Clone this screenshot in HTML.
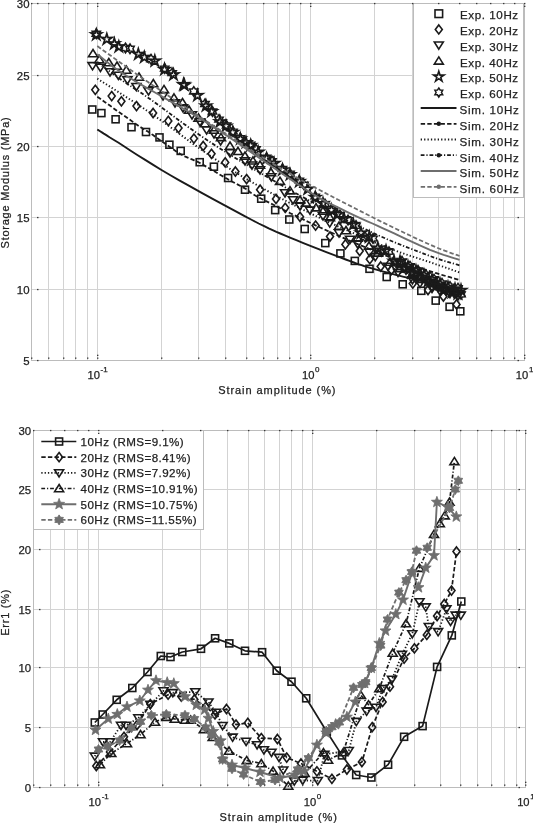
<!DOCTYPE html>
<html><head><meta charset="utf-8"><style>
html,body{margin:0;padding:0;background:#fff;}
svg{display:block;font-family:'Liberation Sans',sans-serif;filter:grayscale(1) blur(0.3px);}
</style></head><body>
<svg width="533" height="823" viewBox="0 0 533 823">
<rect width="533" height="823" fill="#fff"/>
<line x1="31.5" y1="3.5" x2="31.5" y2="360.5" stroke="#d3d3d3" stroke-width="1"/>
<line x1="48.5" y1="3.5" x2="48.5" y2="360.5" stroke="#d3d3d3" stroke-width="1"/>
<line x1="63.5" y1="3.5" x2="63.5" y2="360.5" stroke="#d3d3d3" stroke-width="1"/>
<line x1="75.5" y1="3.5" x2="75.5" y2="360.5" stroke="#d3d3d3" stroke-width="1"/>
<line x1="87.5" y1="3.5" x2="87.5" y2="360.5" stroke="#d3d3d3" stroke-width="1"/>
<line x1="97.5" y1="3.5" x2="97.5" y2="360.5" stroke="#d3d3d3" stroke-width="1"/>
<line x1="161.5" y1="3.5" x2="161.5" y2="360.5" stroke="#d3d3d3" stroke-width="1"/>
<line x1="198.5" y1="3.5" x2="198.5" y2="360.5" stroke="#d3d3d3" stroke-width="1"/>
<line x1="225.5" y1="3.5" x2="225.5" y2="360.5" stroke="#d3d3d3" stroke-width="1"/>
<line x1="246.5" y1="3.5" x2="246.5" y2="360.5" stroke="#d3d3d3" stroke-width="1"/>
<line x1="263.5" y1="3.5" x2="263.5" y2="360.5" stroke="#d3d3d3" stroke-width="1"/>
<line x1="277.5" y1="3.5" x2="277.5" y2="360.5" stroke="#d3d3d3" stroke-width="1"/>
<line x1="289.5" y1="3.5" x2="289.5" y2="360.5" stroke="#d3d3d3" stroke-width="1"/>
<line x1="300.5" y1="3.5" x2="300.5" y2="360.5" stroke="#d3d3d3" stroke-width="1"/>
<line x1="310.5" y1="3.5" x2="310.5" y2="360.5" stroke="#d3d3d3" stroke-width="1"/>
<line x1="374.5" y1="3.5" x2="374.5" y2="360.5" stroke="#d3d3d3" stroke-width="1"/>
<line x1="412.5" y1="3.5" x2="412.5" y2="360.5" stroke="#d3d3d3" stroke-width="1"/>
<line x1="438.5" y1="3.5" x2="438.5" y2="360.5" stroke="#d3d3d3" stroke-width="1"/>
<line x1="459.5" y1="3.5" x2="459.5" y2="360.5" stroke="#d3d3d3" stroke-width="1"/>
<line x1="476.5" y1="3.5" x2="476.5" y2="360.5" stroke="#d3d3d3" stroke-width="1"/>
<line x1="490.5" y1="3.5" x2="490.5" y2="360.5" stroke="#d3d3d3" stroke-width="1"/>
<line x1="503.5" y1="3.5" x2="503.5" y2="360.5" stroke="#d3d3d3" stroke-width="1"/>
<line x1="514.5" y1="3.5" x2="514.5" y2="360.5" stroke="#d3d3d3" stroke-width="1"/>
<line x1="524.5" y1="3.5" x2="524.5" y2="360.5" stroke="#d3d3d3" stroke-width="1"/>
<line x1="31.5" y1="360.5" x2="524.5" y2="360.5" stroke="#d3d3d3" stroke-width="1"/>
<line x1="31.5" y1="289.5" x2="524.5" y2="289.5" stroke="#d3d3d3" stroke-width="1"/>
<line x1="31.5" y1="217.5" x2="524.5" y2="217.5" stroke="#d3d3d3" stroke-width="1"/>
<line x1="31.5" y1="146.5" x2="524.5" y2="146.5" stroke="#d3d3d3" stroke-width="1"/>
<line x1="31.5" y1="75.5" x2="524.5" y2="75.5" stroke="#d3d3d3" stroke-width="1"/>
<line x1="31.5" y1="3.5" x2="524.5" y2="3.5" stroke="#d3d3d3" stroke-width="1"/>
<rect x="31.5" y="3.5" width="493.0" height="357.0" fill="none" stroke="#bcbcbc" stroke-width="1"/>
<text x="29.5" y="364.6" text-anchor="end" font-size="11.4" fill="#222" stroke="#222" stroke-width="0.25">5</text>
<text x="29.5" y="293.6" text-anchor="end" font-size="11.4" fill="#222" stroke="#222" stroke-width="0.25">10</text>
<text x="29.5" y="221.6" text-anchor="end" font-size="11.4" fill="#222" stroke="#222" stroke-width="0.25">15</text>
<text x="29.5" y="150.6" text-anchor="end" font-size="11.4" fill="#222" stroke="#222" stroke-width="0.25">20</text>
<text x="29.5" y="79.6" text-anchor="end" font-size="11.4" fill="#222" stroke="#222" stroke-width="0.25">25</text>
<text x="29.5" y="7.6" text-anchor="end" font-size="11.4" fill="#222" stroke="#222" stroke-width="0.25">30</text>
<text x="97.6" y="379.1" text-anchor="middle" font-size="11.2" fill="#222" stroke="#222" stroke-width="0.25">10<tspan dx="0.6" dy="-7.6" font-size="8">-1</tspan></text>
<text x="310.8" y="379.1" text-anchor="middle" font-size="11.2" fill="#222" stroke="#222" stroke-width="0.25">10<tspan dx="0.6" dy="-7.6" font-size="8">0</tspan></text>
<text x="524.6" y="379.1" text-anchor="middle" font-size="11.2" fill="#222" stroke="#222" stroke-width="0.25">10<tspan dx="0.6" dy="-7.6" font-size="8">1</tspan></text>
<text x="218.2" y="393.5" font-size="11" textLength="117.3" lengthAdjust="spacing" fill="#222" stroke="#222" stroke-width="0.25">Strain amplitude (%)</text>
<text transform="translate(9.3,182.5) rotate(-90)" text-anchor="middle" font-size="11" letter-spacing="0.75" fill="#222" stroke="#222" stroke-width="0.25">Storage Modulus (MPa)</text>
<line x1="33.5" y1="430.5" x2="33.5" y2="787.5" stroke="#d3d3d3" stroke-width="1"/>
<line x1="50.5" y1="430.5" x2="50.5" y2="787.5" stroke="#d3d3d3" stroke-width="1"/>
<line x1="64.5" y1="430.5" x2="64.5" y2="787.5" stroke="#d3d3d3" stroke-width="1"/>
<line x1="77.5" y1="430.5" x2="77.5" y2="787.5" stroke="#d3d3d3" stroke-width="1"/>
<line x1="88.5" y1="430.5" x2="88.5" y2="787.5" stroke="#d3d3d3" stroke-width="1"/>
<line x1="98.5" y1="430.5" x2="98.5" y2="787.5" stroke="#d3d3d3" stroke-width="1"/>
<line x1="162.5" y1="430.5" x2="162.5" y2="787.5" stroke="#d3d3d3" stroke-width="1"/>
<line x1="200.5" y1="430.5" x2="200.5" y2="787.5" stroke="#d3d3d3" stroke-width="1"/>
<line x1="227.5" y1="430.5" x2="227.5" y2="787.5" stroke="#d3d3d3" stroke-width="1"/>
<line x1="248.5" y1="430.5" x2="248.5" y2="787.5" stroke="#d3d3d3" stroke-width="1"/>
<line x1="264.5" y1="430.5" x2="264.5" y2="787.5" stroke="#d3d3d3" stroke-width="1"/>
<line x1="279.5" y1="430.5" x2="279.5" y2="787.5" stroke="#d3d3d3" stroke-width="1"/>
<line x1="291.5" y1="430.5" x2="291.5" y2="787.5" stroke="#d3d3d3" stroke-width="1"/>
<line x1="302.5" y1="430.5" x2="302.5" y2="787.5" stroke="#d3d3d3" stroke-width="1"/>
<line x1="312.5" y1="430.5" x2="312.5" y2="787.5" stroke="#d3d3d3" stroke-width="1"/>
<line x1="376.5" y1="430.5" x2="376.5" y2="787.5" stroke="#d3d3d3" stroke-width="1"/>
<line x1="414.5" y1="430.5" x2="414.5" y2="787.5" stroke="#d3d3d3" stroke-width="1"/>
<line x1="440.5" y1="430.5" x2="440.5" y2="787.5" stroke="#d3d3d3" stroke-width="1"/>
<line x1="460.5" y1="430.5" x2="460.5" y2="787.5" stroke="#d3d3d3" stroke-width="1"/>
<line x1="477.5" y1="430.5" x2="477.5" y2="787.5" stroke="#d3d3d3" stroke-width="1"/>
<line x1="491.5" y1="430.5" x2="491.5" y2="787.5" stroke="#d3d3d3" stroke-width="1"/>
<line x1="504.5" y1="430.5" x2="504.5" y2="787.5" stroke="#d3d3d3" stroke-width="1"/>
<line x1="516.5" y1="430.5" x2="516.5" y2="787.5" stroke="#d3d3d3" stroke-width="1"/>
<line x1="525.5" y1="430.5" x2="525.5" y2="787.5" stroke="#d3d3d3" stroke-width="1"/>
<line x1="33.5" y1="787.5" x2="525.5" y2="787.5" stroke="#d3d3d3" stroke-width="1"/>
<line x1="33.5" y1="727.5" x2="525.5" y2="727.5" stroke="#d3d3d3" stroke-width="1"/>
<line x1="33.5" y1="667.5" x2="525.5" y2="667.5" stroke="#d3d3d3" stroke-width="1"/>
<line x1="33.5" y1="609.5" x2="525.5" y2="609.5" stroke="#d3d3d3" stroke-width="1"/>
<line x1="33.5" y1="549.5" x2="525.5" y2="549.5" stroke="#d3d3d3" stroke-width="1"/>
<line x1="33.5" y1="489.5" x2="525.5" y2="489.5" stroke="#d3d3d3" stroke-width="1"/>
<line x1="33.5" y1="430.5" x2="525.5" y2="430.5" stroke="#d3d3d3" stroke-width="1"/>
<rect x="33.5" y="430.5" width="492.0" height="357.0" fill="none" stroke="#bcbcbc" stroke-width="1"/>
<text x="31.1" y="791.6" text-anchor="end" font-size="11.4" fill="#222" stroke="#222" stroke-width="0.25">0</text>
<text x="31.1" y="731.6" text-anchor="end" font-size="11.4" fill="#222" stroke="#222" stroke-width="0.25">5</text>
<text x="31.1" y="671.6" text-anchor="end" font-size="11.4" fill="#222" stroke="#222" stroke-width="0.25">10</text>
<text x="31.1" y="613.6" text-anchor="end" font-size="11.4" fill="#222" stroke="#222" stroke-width="0.25">15</text>
<text x="31.1" y="553.6" text-anchor="end" font-size="11.4" fill="#222" stroke="#222" stroke-width="0.25">20</text>
<text x="31.1" y="493.6" text-anchor="end" font-size="11.4" fill="#222" stroke="#222" stroke-width="0.25">25</text>
<text x="31.1" y="434.6" text-anchor="end" font-size="11.4" fill="#222" stroke="#222" stroke-width="0.25">30</text>
<text x="98.7" y="806.1" text-anchor="middle" font-size="11.2" fill="#222" stroke="#222" stroke-width="0.25">10<tspan dx="0.6" dy="-7.6" font-size="8">-1</tspan></text>
<text x="312.5" y="806.1" text-anchor="middle" font-size="11.2" fill="#222" stroke="#222" stroke-width="0.25">10<tspan dx="0.6" dy="-7.6" font-size="8">0</tspan></text>
<text x="525.9" y="806.1" text-anchor="middle" font-size="11.2" fill="#222" stroke="#222" stroke-width="0.25">10<tspan dx="0.6" dy="-7.6" font-size="8">1</tspan></text>
<text x="219.6" y="820.5" font-size="11" textLength="117.3" lengthAdjust="spacing" fill="#222" stroke="#222" stroke-width="0.25">Strain amplitude (%)</text>
<text transform="translate(9.3,612.3) rotate(-90)" text-anchor="middle" font-size="11" letter-spacing="0.75" fill="#222" stroke="#222" stroke-width="0.25">Err1 (%)</text>
<g>
<rect x="88.8" y="106.0" width="7.0" height="7.0" fill="none" stroke="#1a1a1a" stroke-width="1.6"/>
<rect x="97.9" y="109.6" width="7.0" height="7.0" fill="none" stroke="#1a1a1a" stroke-width="1.6"/>
<rect x="112.1" y="115.8" width="7.0" height="7.0" fill="none" stroke="#1a1a1a" stroke-width="1.6"/>
<rect x="128.0" y="123.7" width="7.0" height="7.0" fill="none" stroke="#1a1a1a" stroke-width="1.6"/>
<rect x="142.5" y="128.5" width="7.0" height="7.0" fill="none" stroke="#1a1a1a" stroke-width="1.6"/>
<rect x="156.0" y="133.9" width="7.0" height="7.0" fill="none" stroke="#1a1a1a" stroke-width="1.6"/>
<rect x="165.9" y="141.2" width="7.0" height="7.0" fill="none" stroke="#1a1a1a" stroke-width="1.6"/>
<rect x="177.2" y="147.4" width="7.0" height="7.0" fill="none" stroke="#1a1a1a" stroke-width="1.6"/>
<rect x="196.2" y="158.7" width="7.0" height="7.0" fill="none" stroke="#1a1a1a" stroke-width="1.6"/>
<rect x="210.4" y="163.2" width="7.0" height="7.0" fill="none" stroke="#1a1a1a" stroke-width="1.6"/>
<rect x="224.6" y="174.5" width="7.0" height="7.0" fill="none" stroke="#1a1a1a" stroke-width="1.6"/>
<rect x="241.5" y="186.2" width="7.0" height="7.0" fill="none" stroke="#1a1a1a" stroke-width="1.6"/>
<rect x="257.7" y="195.2" width="7.0" height="7.0" fill="none" stroke="#1a1a1a" stroke-width="1.6"/>
<rect x="271.7" y="206.6" width="7.0" height="7.0" fill="none" stroke="#1a1a1a" stroke-width="1.6"/>
<rect x="285.8" y="216.0" width="7.0" height="7.0" fill="none" stroke="#1a1a1a" stroke-width="1.6"/>
<rect x="301.2" y="225.5" width="7.0" height="7.0" fill="none" stroke="#1a1a1a" stroke-width="1.6"/>
<rect x="321.8" y="239.6" width="7.0" height="7.0" fill="none" stroke="#1a1a1a" stroke-width="1.6"/>
<rect x="336.9" y="249.9" width="7.0" height="7.0" fill="none" stroke="#1a1a1a" stroke-width="1.6"/>
<rect x="351.3" y="257.4" width="7.0" height="7.0" fill="none" stroke="#1a1a1a" stroke-width="1.6"/>
<rect x="366.0" y="265.3" width="7.0" height="7.0" fill="none" stroke="#1a1a1a" stroke-width="1.6"/>
<rect x="383.2" y="273.5" width="7.0" height="7.0" fill="none" stroke="#1a1a1a" stroke-width="1.6"/>
<rect x="399.2" y="280.8" width="7.0" height="7.0" fill="none" stroke="#1a1a1a" stroke-width="1.6"/>
<rect x="417.8" y="287.3" width="7.0" height="7.0" fill="none" stroke="#1a1a1a" stroke-width="1.6"/>
<rect x="432.2" y="297.1" width="7.0" height="7.0" fill="none" stroke="#1a1a1a" stroke-width="1.6"/>
<rect x="446.1" y="303.3" width="7.0" height="7.0" fill="none" stroke="#1a1a1a" stroke-width="1.6"/>
<rect x="456.8" y="307.8" width="7.0" height="7.0" fill="none" stroke="#1a1a1a" stroke-width="1.6"/>
<path d="M95.3,85.2 L98.8,89.8 L95.3,94.4 L91.8,89.8 Z" fill="none" stroke="#1a1a1a" stroke-width="1.6"/>
<path d="M111.7,91.5 L115.2,96.1 L111.7,100.7 L108.2,96.1 Z" fill="none" stroke="#1a1a1a" stroke-width="1.6"/>
<path d="M121.4,96.7 L124.9,101.3 L121.4,105.9 L117.9,101.3 Z" fill="none" stroke="#1a1a1a" stroke-width="1.6"/>
<path d="M136.5,101.5 L140.0,106.1 L136.5,110.7 L133.0,106.1 Z" fill="none" stroke="#1a1a1a" stroke-width="1.6"/>
<path d="M153.1,108.4 L156.6,113.0 L153.1,117.6 L149.6,113.0 Z" fill="none" stroke="#1a1a1a" stroke-width="1.6"/>
<path d="M168.3,116.3 L171.8,120.9 L168.3,125.5 L164.8,120.9 Z" fill="none" stroke="#1a1a1a" stroke-width="1.6"/>
<path d="M178.5,123.5 L182.0,128.1 L178.5,132.7 L175.0,128.1 Z" fill="none" stroke="#1a1a1a" stroke-width="1.6"/>
<path d="M193.9,134.0 L197.4,138.6 L193.9,143.2 L190.4,138.6 Z" fill="none" stroke="#1a1a1a" stroke-width="1.6"/>
<path d="M203.2,141.4 L206.7,146.0 L203.2,150.6 L199.7,146.0 Z" fill="none" stroke="#1a1a1a" stroke-width="1.6"/>
<path d="M211.5,149.2 L215.0,153.8 L211.5,158.4 L208.0,153.8 Z" fill="none" stroke="#1a1a1a" stroke-width="1.6"/>
<path d="M225.2,157.8 L228.7,162.4 L225.2,167.0 L221.7,162.4 Z" fill="none" stroke="#1a1a1a" stroke-width="1.6"/>
<path d="M235.4,166.9 L238.9,171.5 L235.4,176.1 L231.9,171.5 Z" fill="none" stroke="#1a1a1a" stroke-width="1.6"/>
<path d="M246.6,174.5 L250.1,179.1 L246.6,183.7 L243.1,179.1 Z" fill="none" stroke="#1a1a1a" stroke-width="1.6"/>
<path d="M260.1,185.1 L263.6,189.7 L260.1,194.3 L256.6,189.7 Z" fill="none" stroke="#1a1a1a" stroke-width="1.6"/>
<path d="M276.0,194.3 L279.5,198.9 L276.0,203.5 L272.5,198.9 Z" fill="none" stroke="#1a1a1a" stroke-width="1.6"/>
<path d="M285.2,203.2 L288.7,207.8 L285.2,212.4 L281.7,207.8 Z" fill="none" stroke="#1a1a1a" stroke-width="1.6"/>
<path d="M300.0,212.2 L303.5,216.8 L300.0,221.4 L296.5,216.8 Z" fill="none" stroke="#1a1a1a" stroke-width="1.6"/>
<path d="M315.6,221.0 L319.1,225.6 L315.6,230.2 L312.1,225.6 Z" fill="none" stroke="#1a1a1a" stroke-width="1.6"/>
<path d="M330.0,231.9 L333.5,236.5 L330.0,241.1 L326.5,236.5 Z" fill="none" stroke="#1a1a1a" stroke-width="1.6"/>
<path d="M345.4,239.8 L348.9,244.4 L345.4,249.0 L341.9,244.4 Z" fill="none" stroke="#1a1a1a" stroke-width="1.6"/>
<path d="M359.7,246.4 L363.2,251.0 L359.7,255.6 L356.2,251.0 Z" fill="none" stroke="#1a1a1a" stroke-width="1.6"/>
<path d="M369.8,254.6 L373.3,259.2 L369.8,263.8 L366.3,259.2 Z" fill="none" stroke="#1a1a1a" stroke-width="1.6"/>
<path d="M380.7,261.9 L384.2,266.5 L380.7,271.1 L377.2,266.5 Z" fill="none" stroke="#1a1a1a" stroke-width="1.6"/>
<path d="M391.4,265.4 L394.9,270.0 L391.4,274.6 L387.9,270.0 Z" fill="none" stroke="#1a1a1a" stroke-width="1.6"/>
<path d="M412.8,279.0 L416.3,283.6 L412.8,288.2 L409.3,283.6 Z" fill="none" stroke="#1a1a1a" stroke-width="1.6"/>
<path d="M428.0,285.4 L431.5,290.0 L428.0,294.6 L424.5,290.0 Z" fill="none" stroke="#1a1a1a" stroke-width="1.6"/>
<path d="M443.4,291.9 L446.9,296.5 L443.4,301.1 L439.9,296.5 Z" fill="none" stroke="#1a1a1a" stroke-width="1.6"/>
<path d="M456.5,299.8 L460.0,304.4 L456.5,309.0 L453.0,304.4 Z" fill="none" stroke="#1a1a1a" stroke-width="1.6"/>
<path d="M92.5,69.8 L97.0,62.6 L88.0,62.6 Z" fill="none" stroke="#1a1a1a" stroke-width="1.6" stroke-linejoin="miter"/>
<path d="M100.4,71.5 L104.9,64.3 L95.9,64.3 Z" fill="none" stroke="#1a1a1a" stroke-width="1.6" stroke-linejoin="miter"/>
<path d="M110.0,76.0 L114.5,68.8 L105.5,68.8 Z" fill="none" stroke="#1a1a1a" stroke-width="1.6" stroke-linejoin="miter"/>
<path d="M118.4,79.4 L122.9,72.2 L113.9,72.2 Z" fill="none" stroke="#1a1a1a" stroke-width="1.6" stroke-linejoin="miter"/>
<path d="M127.4,84.0 L131.9,76.8 L122.9,76.8 Z" fill="none" stroke="#1a1a1a" stroke-width="1.6" stroke-linejoin="miter"/>
<path d="M136.4,90.7 L140.9,83.5 L131.9,83.5 Z" fill="none" stroke="#1a1a1a" stroke-width="1.6" stroke-linejoin="miter"/>
<path d="M148.5,95.0 L153.0,87.8 L144.0,87.8 Z" fill="none" stroke="#1a1a1a" stroke-width="1.6" stroke-linejoin="miter"/>
<path d="M163.0,100.0 L167.5,92.8 L158.5,92.8 Z" fill="none" stroke="#1a1a1a" stroke-width="1.6" stroke-linejoin="miter"/>
<path d="M175.0,107.0 L179.5,99.8 L170.5,99.8 Z" fill="none" stroke="#1a1a1a" stroke-width="1.6" stroke-linejoin="miter"/>
<path d="M183.0,112.0 L187.5,104.8 L178.5,104.8 Z" fill="none" stroke="#1a1a1a" stroke-width="1.6" stroke-linejoin="miter"/>
<path d="M192.0,119.0 L196.5,111.8 L187.5,111.8 Z" fill="none" stroke="#1a1a1a" stroke-width="1.6" stroke-linejoin="miter"/>
<path d="M200.0,126.0 L204.5,118.8 L195.5,118.8 Z" fill="none" stroke="#1a1a1a" stroke-width="1.6" stroke-linejoin="miter"/>
<path d="M206.6,134.0 L211.1,126.8 L202.1,126.8 Z" fill="none" stroke="#1a1a1a" stroke-width="1.6" stroke-linejoin="miter"/>
<path d="M214.0,138.0 L218.5,130.8 L209.5,130.8 Z" fill="none" stroke="#1a1a1a" stroke-width="1.6" stroke-linejoin="miter"/>
<path d="M220.6,145.0 L225.1,137.8 L216.1,137.8 Z" fill="none" stroke="#1a1a1a" stroke-width="1.6" stroke-linejoin="miter"/>
<path d="M230.0,157.0 L234.5,149.8 L225.5,149.8 Z" fill="none" stroke="#1a1a1a" stroke-width="1.6" stroke-linejoin="miter"/>
<path d="M245.0,165.0 L249.5,157.8 L240.5,157.8 Z" fill="none" stroke="#1a1a1a" stroke-width="1.6" stroke-linejoin="miter"/>
<path d="M252.0,169.2 L256.5,162.0 L247.5,162.0 Z" fill="none" stroke="#1a1a1a" stroke-width="1.6" stroke-linejoin="miter"/>
<path d="M260.0,174.0 L264.5,166.8 L255.5,166.8 Z" fill="none" stroke="#1a1a1a" stroke-width="1.6" stroke-linejoin="miter"/>
<path d="M271.3,181.0 L275.8,173.8 L266.8,173.8 Z" fill="none" stroke="#1a1a1a" stroke-width="1.6" stroke-linejoin="miter"/>
<path d="M285.0,197.0 L289.5,189.8 L280.5,189.8 Z" fill="none" stroke="#1a1a1a" stroke-width="1.6" stroke-linejoin="miter"/>
<path d="M293.0,203.9 L297.5,196.7 L288.5,196.7 Z" fill="none" stroke="#1a1a1a" stroke-width="1.6" stroke-linejoin="miter"/>
<path d="M300.0,210.0 L304.5,202.8 L295.5,202.8 Z" fill="none" stroke="#1a1a1a" stroke-width="1.6" stroke-linejoin="miter"/>
<path d="M310.0,214.3 L314.5,207.1 L305.5,207.1 Z" fill="none" stroke="#1a1a1a" stroke-width="1.6" stroke-linejoin="miter"/>
<path d="M323.0,220.0 L327.5,212.8 L318.5,212.8 Z" fill="none" stroke="#1a1a1a" stroke-width="1.6" stroke-linejoin="miter"/>
<path d="M329.7,227.1 L334.2,219.9 L325.2,219.9 Z" fill="none" stroke="#1a1a1a" stroke-width="1.6" stroke-linejoin="miter"/>
<path d="M339.0,237.0 L343.5,229.8 L334.5,229.8 Z" fill="none" stroke="#1a1a1a" stroke-width="1.6" stroke-linejoin="miter"/>
<path d="M350.0,243.5 L354.5,236.3 L345.5,236.3 Z" fill="none" stroke="#1a1a1a" stroke-width="1.6" stroke-linejoin="miter"/>
<path d="M357.6,248.0 L362.1,240.8 L353.1,240.8 Z" fill="none" stroke="#1a1a1a" stroke-width="1.6" stroke-linejoin="miter"/>
<path d="M369.4,256.3 L373.9,249.1 L364.9,249.1 Z" fill="none" stroke="#1a1a1a" stroke-width="1.6" stroke-linejoin="miter"/>
<path d="M375.3,260.8 L379.8,253.6 L370.8,253.6 Z" fill="none" stroke="#1a1a1a" stroke-width="1.6" stroke-linejoin="miter"/>
<path d="M388.0,270.5 L392.5,263.3 L383.5,263.3 Z" fill="none" stroke="#1a1a1a" stroke-width="1.6" stroke-linejoin="miter"/>
<path d="M398.0,276.6 L402.5,269.4 L393.5,269.4 Z" fill="none" stroke="#1a1a1a" stroke-width="1.6" stroke-linejoin="miter"/>
<path d="M412.5,283.9 L417.0,276.7 L408.0,276.7 Z" fill="none" stroke="#1a1a1a" stroke-width="1.6" stroke-linejoin="miter"/>
<path d="M420.0,287.4 L424.5,280.2 L415.5,280.2 Z" fill="none" stroke="#1a1a1a" stroke-width="1.6" stroke-linejoin="miter"/>
<path d="M432.0,292.6 L436.5,285.4 L427.5,285.4 Z" fill="none" stroke="#1a1a1a" stroke-width="1.6" stroke-linejoin="miter"/>
<path d="M440.0,294.9 L444.5,287.7 L435.5,287.7 Z" fill="none" stroke="#1a1a1a" stroke-width="1.6" stroke-linejoin="miter"/>
<path d="M450.0,297.7 L454.5,290.5 L445.5,290.5 Z" fill="none" stroke="#1a1a1a" stroke-width="1.6" stroke-linejoin="miter"/>
<path d="M458.0,300.0 L462.5,292.8 L453.5,292.8 Z" fill="none" stroke="#1a1a1a" stroke-width="1.6" stroke-linejoin="miter"/>
<path d="M93.0,49.5 L97.5,56.7 L88.5,56.7 Z" fill="none" stroke="#1a1a1a" stroke-width="1.6" stroke-linejoin="miter"/>
<path d="M99.3,55.5 L103.8,62.7 L94.8,62.7 Z" fill="none" stroke="#1a1a1a" stroke-width="1.6" stroke-linejoin="miter"/>
<path d="M108.8,58.5 L113.3,65.7 L104.3,65.7 Z" fill="none" stroke="#1a1a1a" stroke-width="1.6" stroke-linejoin="miter"/>
<path d="M117.0,62.0 L121.5,69.2 L112.5,69.2 Z" fill="none" stroke="#1a1a1a" stroke-width="1.6" stroke-linejoin="miter"/>
<path d="M126.3,66.0 L130.8,73.2 L121.8,73.2 Z" fill="none" stroke="#1a1a1a" stroke-width="1.6" stroke-linejoin="miter"/>
<path d="M139.0,73.0 L143.5,80.2 L134.5,80.2 Z" fill="none" stroke="#1a1a1a" stroke-width="1.6" stroke-linejoin="miter"/>
<path d="M153.3,79.5 L157.8,86.7 L148.8,86.7 Z" fill="none" stroke="#1a1a1a" stroke-width="1.6" stroke-linejoin="miter"/>
<path d="M164.0,85.4 L168.5,92.6 L159.5,92.6 Z" fill="none" stroke="#1a1a1a" stroke-width="1.6" stroke-linejoin="miter"/>
<path d="M174.0,93.8 L178.5,101.0 L169.5,101.0 Z" fill="none" stroke="#1a1a1a" stroke-width="1.6" stroke-linejoin="miter"/>
<path d="M182.5,98.5 L187.0,105.7 L178.0,105.7 Z" fill="none" stroke="#1a1a1a" stroke-width="1.6" stroke-linejoin="miter"/>
<path d="M189.0,106.0 L193.5,113.2 L184.5,113.2 Z" fill="none" stroke="#1a1a1a" stroke-width="1.6" stroke-linejoin="miter"/>
<path d="M198.5,114.0 L203.0,121.2 L194.0,121.2 Z" fill="none" stroke="#1a1a1a" stroke-width="1.6" stroke-linejoin="miter"/>
<path d="M205.0,119.5 L209.5,126.7 L200.5,126.7 Z" fill="none" stroke="#1a1a1a" stroke-width="1.6" stroke-linejoin="miter"/>
<path d="M214.0,126.0 L218.5,133.2 L209.5,133.2 Z" fill="none" stroke="#1a1a1a" stroke-width="1.6" stroke-linejoin="miter"/>
<path d="M221.0,133.4 L225.5,140.6 L216.5,140.6 Z" fill="none" stroke="#1a1a1a" stroke-width="1.6" stroke-linejoin="miter"/>
<path d="M230.0,142.0 L234.5,149.2 L225.5,149.2 Z" fill="none" stroke="#1a1a1a" stroke-width="1.6" stroke-linejoin="miter"/>
<path d="M238.0,147.3 L242.5,154.5 L233.5,154.5 Z" fill="none" stroke="#1a1a1a" stroke-width="1.6" stroke-linejoin="miter"/>
<path d="M245.0,152.0 L249.5,159.2 L240.5,159.2 Z" fill="none" stroke="#1a1a1a" stroke-width="1.6" stroke-linejoin="miter"/>
<path d="M253.0,156.8 L257.5,164.0 L248.5,164.0 Z" fill="none" stroke="#1a1a1a" stroke-width="1.6" stroke-linejoin="miter"/>
<path d="M260.0,161.0 L264.5,168.2 L255.5,168.2 Z" fill="none" stroke="#1a1a1a" stroke-width="1.6" stroke-linejoin="miter"/>
<path d="M271.0,168.5 L275.5,175.7 L266.5,175.7 Z" fill="none" stroke="#1a1a1a" stroke-width="1.6" stroke-linejoin="miter"/>
<path d="M280.0,177.2 L284.5,184.4 L275.5,184.4 Z" fill="none" stroke="#1a1a1a" stroke-width="1.6" stroke-linejoin="miter"/>
<path d="M290.0,186.7 L294.5,193.9 L285.5,193.9 Z" fill="none" stroke="#1a1a1a" stroke-width="1.6" stroke-linejoin="miter"/>
<path d="M300.0,196.0 L304.5,203.2 L295.5,203.2 Z" fill="none" stroke="#1a1a1a" stroke-width="1.6" stroke-linejoin="miter"/>
<path d="M306.0,198.9 L310.5,206.1 L301.5,206.1 Z" fill="none" stroke="#1a1a1a" stroke-width="1.6" stroke-linejoin="miter"/>
<path d="M316.0,203.7 L320.5,210.9 L311.5,210.9 Z" fill="none" stroke="#1a1a1a" stroke-width="1.6" stroke-linejoin="miter"/>
<path d="M323.0,207.0 L327.5,214.2 L318.5,214.2 Z" fill="none" stroke="#1a1a1a" stroke-width="1.6" stroke-linejoin="miter"/>
<path d="M330.0,213.6 L334.5,220.8 L325.5,220.8 Z" fill="none" stroke="#1a1a1a" stroke-width="1.6" stroke-linejoin="miter"/>
<path d="M339.0,222.0 L343.5,229.2 L334.5,229.2 Z" fill="none" stroke="#1a1a1a" stroke-width="1.6" stroke-linejoin="miter"/>
<path d="M346.0,226.5 L350.5,233.7 L341.5,233.7 Z" fill="none" stroke="#1a1a1a" stroke-width="1.6" stroke-linejoin="miter"/>
<path d="M357.6,234.0 L362.1,241.2 L353.1,241.2 Z" fill="none" stroke="#1a1a1a" stroke-width="1.6" stroke-linejoin="miter"/>
<path d="M369.0,242.0 L373.5,249.2 L364.5,249.2 Z" fill="none" stroke="#1a1a1a" stroke-width="1.6" stroke-linejoin="miter"/>
<path d="M378.0,248.9 L382.5,256.1 L373.5,256.1 Z" fill="none" stroke="#1a1a1a" stroke-width="1.6" stroke-linejoin="miter"/>
<path d="M390.0,258.0 L394.5,265.2 L385.5,265.2 Z" fill="none" stroke="#1a1a1a" stroke-width="1.6" stroke-linejoin="miter"/>
<path d="M400.0,264.4 L404.5,271.6 L395.5,271.6 Z" fill="none" stroke="#1a1a1a" stroke-width="1.6" stroke-linejoin="miter"/>
<path d="M412.0,270.7 L416.5,277.9 L407.5,277.9 Z" fill="none" stroke="#1a1a1a" stroke-width="1.6" stroke-linejoin="miter"/>
<path d="M422.0,275.3 L426.5,282.5 L417.5,282.5 Z" fill="none" stroke="#1a1a1a" stroke-width="1.6" stroke-linejoin="miter"/>
<path d="M432.0,279.6 L436.5,286.8 L427.5,286.8 Z" fill="none" stroke="#1a1a1a" stroke-width="1.6" stroke-linejoin="miter"/>
<path d="M445.0,283.8 L449.5,291.0 L440.5,291.0 Z" fill="none" stroke="#1a1a1a" stroke-width="1.6" stroke-linejoin="miter"/>
<path d="M455.0,287.0 L459.5,294.2 L450.5,294.2 Z" fill="none" stroke="#1a1a1a" stroke-width="1.6" stroke-linejoin="miter"/>
<path d="M96.3,29.1 L97.5,33.1 L101.7,33.0 L98.3,35.4 L99.7,39.4 L96.3,36.9 L92.9,39.4 L94.3,35.4 L90.9,33.0 L95.1,33.1 Z" fill="none" stroke="#1a1a1a" stroke-width="1.7"/>
<path d="M106.8,33.6 L108.0,37.6 L112.2,37.5 L108.8,39.9 L110.2,43.9 L106.8,41.4 L103.4,43.9 L104.8,39.9 L101.4,37.5 L105.6,37.6 Z" fill="none" stroke="#1a1a1a" stroke-width="1.7"/>
<path d="M114.3,38.1 L115.5,42.1 L119.7,42.0 L116.3,44.4 L117.7,48.4 L114.3,45.9 L110.9,48.4 L112.3,44.4 L108.9,42.0 L113.1,42.1 Z" fill="none" stroke="#1a1a1a" stroke-width="1.7"/>
<path d="M118.8,41.1 L120.0,45.1 L124.2,45.0 L120.8,47.4 L122.2,51.4 L118.8,48.9 L115.4,51.4 L116.8,47.4 L113.4,45.0 L117.6,45.1 Z" fill="none" stroke="#1a1a1a" stroke-width="1.7"/>
<path d="M138.3,48.6 L139.5,52.6 L143.7,52.5 L140.3,54.9 L141.7,58.9 L138.3,56.4 L134.9,58.9 L136.3,54.9 L132.9,52.5 L137.1,52.6 Z" fill="none" stroke="#1a1a1a" stroke-width="1.7"/>
<path d="M144.3,51.6 L145.5,55.6 L149.7,55.5 L146.3,57.9 L147.7,61.9 L144.3,59.4 L140.9,61.9 L142.3,57.9 L138.9,55.5 L143.1,55.6 Z" fill="none" stroke="#1a1a1a" stroke-width="1.7"/>
<path d="M154.8,55.3 L156.0,59.3 L160.2,59.2 L156.8,61.6 L158.2,65.6 L154.8,63.1 L151.4,65.6 L152.8,61.6 L149.4,59.2 L153.6,59.3 Z" fill="none" stroke="#1a1a1a" stroke-width="1.7"/>
<path d="M164.5,63.8 L165.7,67.8 L169.9,67.7 L166.5,70.1 L167.9,74.1 L164.5,71.6 L161.1,74.1 L162.5,70.1 L159.1,67.7 L163.3,67.8 Z" fill="none" stroke="#1a1a1a" stroke-width="1.7"/>
<path d="M173.5,69.1 L174.7,73.1 L178.9,73.0 L175.5,75.4 L176.9,79.4 L173.5,76.9 L170.1,79.4 L171.5,75.4 L168.1,73.0 L172.3,73.1 Z" fill="none" stroke="#1a1a1a" stroke-width="1.7"/>
<path d="M183.5,78.8 L184.7,82.8 L188.9,82.7 L185.5,85.1 L186.9,89.1 L183.5,86.6 L180.1,89.1 L181.5,85.1 L178.1,82.7 L182.3,82.8 Z" fill="none" stroke="#1a1a1a" stroke-width="1.7"/>
<path d="M184.4,79.5 L185.6,83.5 L189.8,83.4 L186.4,85.8 L187.8,89.8 L184.4,87.3 L181.0,89.8 L182.4,85.8 L179.0,83.4 L183.2,83.5 Z" fill="none" stroke="#1a1a1a" stroke-width="1.7"/>
<path d="M197.5,89.8 L198.7,93.8 L202.9,93.7 L199.5,96.1 L200.9,100.1 L197.5,97.5 L194.1,100.1 L195.5,96.1 L192.1,93.7 L196.3,93.8 Z" fill="none" stroke="#1a1a1a" stroke-width="1.7"/>
<path d="M206.0,100.2 L207.2,104.3 L211.4,104.2 L208.0,106.5 L209.4,110.5 L206.0,108.0 L202.6,110.5 L204.0,106.5 L200.6,104.2 L204.8,104.3 Z" fill="none" stroke="#1a1a1a" stroke-width="1.7"/>
<path d="M211.6,105.9 L212.8,109.9 L217.0,109.8 L213.6,112.2 L215.0,116.2 L211.6,113.6 L208.2,116.2 L209.6,112.2 L206.2,109.8 L210.4,109.9 Z" fill="none" stroke="#1a1a1a" stroke-width="1.7"/>
<path d="M220.0,116.1 L221.2,120.1 L225.4,120.0 L222.0,122.4 L223.4,126.4 L220.0,123.9 L216.6,126.4 L218.0,122.4 L214.6,120.0 L218.8,120.1 Z" fill="none" stroke="#1a1a1a" stroke-width="1.7"/>
<path d="M226.0,120.4 L227.2,124.4 L231.4,124.3 L228.0,126.7 L229.4,130.7 L226.0,128.1 L222.6,130.7 L224.0,126.7 L220.6,124.3 L224.8,124.4 Z" fill="none" stroke="#1a1a1a" stroke-width="1.7"/>
<path d="M232.8,126.7 L234.0,130.7 L238.2,130.6 L234.8,133.0 L236.2,137.0 L232.8,134.5 L229.4,137.0 L230.8,133.0 L227.4,130.6 L231.6,130.7 Z" fill="none" stroke="#1a1a1a" stroke-width="1.7"/>
<path d="M240.3,133.3 L241.5,137.3 L245.7,137.2 L242.3,139.6 L243.7,143.6 L240.3,141.1 L236.9,143.6 L238.3,139.6 L234.9,137.2 L239.1,137.3 Z" fill="none" stroke="#1a1a1a" stroke-width="1.7"/>
<path d="M246.0,136.9 L247.2,140.9 L251.4,140.8 L248.0,143.2 L249.4,147.2 L246.0,144.6 L242.6,147.2 L244.0,143.2 L240.6,140.8 L244.8,140.9 Z" fill="none" stroke="#1a1a1a" stroke-width="1.7"/>
<path d="M250.7,139.8 L251.9,143.8 L256.1,143.7 L252.7,146.1 L254.1,150.1 L250.7,147.6 L247.3,150.1 L248.7,146.1 L245.3,143.7 L249.5,143.8 Z" fill="none" stroke="#1a1a1a" stroke-width="1.7"/>
<path d="M258.2,146.4 L259.4,150.4 L263.6,150.3 L260.2,152.7 L261.6,156.7 L258.2,154.2 L254.8,156.7 L256.2,152.7 L252.8,150.3 L257.0,150.4 Z" fill="none" stroke="#1a1a1a" stroke-width="1.7"/>
<path d="M266.6,153.0 L267.8,157.0 L272.0,156.9 L268.6,159.3 L270.0,163.3 L266.6,160.8 L263.2,163.3 L264.6,159.3 L261.2,156.9 L265.4,157.0 Z" fill="none" stroke="#1a1a1a" stroke-width="1.7"/>
<path d="M274.1,157.7 L275.3,161.7 L279.5,161.6 L276.1,164.0 L277.5,168.0 L274.1,165.5 L270.7,168.0 L272.1,164.0 L268.7,161.6 L272.9,161.7 Z" fill="none" stroke="#1a1a1a" stroke-width="1.7"/>
<path d="M282.5,164.2 L283.7,168.2 L287.9,168.1 L284.5,170.5 L285.9,174.5 L282.5,172.0 L279.1,174.5 L280.5,170.5 L277.1,168.1 L281.3,168.2 Z" fill="none" stroke="#1a1a1a" stroke-width="1.7"/>
<path d="M290.0,168.9 L291.2,172.9 L295.4,172.8 L292.0,175.2 L293.4,179.2 L290.0,176.7 L286.6,179.2 L288.0,175.2 L284.6,172.8 L288.8,172.9 Z" fill="none" stroke="#1a1a1a" stroke-width="1.7"/>
<path d="M299.3,175.8 L300.5,179.8 L304.7,179.7 L301.3,182.1 L302.7,186.1 L299.3,183.6 L295.9,186.1 L297.3,182.1 L293.9,179.7 L298.1,179.8 Z" fill="none" stroke="#1a1a1a" stroke-width="1.7"/>
<path d="M307.7,183.4 L308.9,187.4 L313.1,187.3 L309.7,189.7 L311.1,193.7 L307.7,191.2 L304.3,193.7 L305.7,189.7 L302.3,187.3 L306.5,187.4 Z" fill="none" stroke="#1a1a1a" stroke-width="1.7"/>
<path d="M315.3,191.8 L316.5,195.8 L320.7,195.7 L317.3,198.1 L318.7,202.1 L315.3,199.6 L311.9,202.1 L313.3,198.1 L309.9,195.7 L314.1,195.8 Z" fill="none" stroke="#1a1a1a" stroke-width="1.7"/>
<path d="M323.0,197.8 L324.2,201.8 L328.4,201.7 L325.0,204.1 L326.4,208.1 L323.0,205.6 L319.6,208.1 L321.0,204.1 L317.6,201.7 L321.8,201.8 Z" fill="none" stroke="#1a1a1a" stroke-width="1.7"/>
<path d="M331.4,204.5 L332.6,208.5 L336.8,208.4 L333.4,210.8 L334.8,214.8 L331.4,212.3 L328.0,214.8 L329.4,210.8 L326.0,208.4 L330.2,208.5 Z" fill="none" stroke="#1a1a1a" stroke-width="1.7"/>
<path d="M337.3,208.7 L338.5,212.7 L342.7,212.6 L339.3,215.0 L340.7,219.0 L337.3,216.5 L333.9,219.0 L335.3,215.0 L331.9,212.6 L336.1,212.7 Z" fill="none" stroke="#1a1a1a" stroke-width="1.7"/>
<path d="M344.0,212.9 L345.2,216.9 L349.4,216.8 L346.0,219.2 L347.4,223.2 L344.0,220.7 L340.6,223.2 L342.0,219.2 L338.6,216.8 L342.8,216.9 Z" fill="none" stroke="#1a1a1a" stroke-width="1.7"/>
<path d="M353.3,218.8 L354.5,222.8 L358.7,222.7 L355.3,225.1 L356.7,229.1 L353.3,226.6 L349.9,229.1 L351.3,225.1 L347.9,222.7 L352.1,222.8 Z" fill="none" stroke="#1a1a1a" stroke-width="1.7"/>
<path d="M361.0,227.3 L362.2,231.3 L366.4,231.2 L363.0,233.6 L364.4,237.6 L361.0,235.1 L357.6,237.6 L359.0,233.6 L355.6,231.2 L359.8,231.3 Z" fill="none" stroke="#1a1a1a" stroke-width="1.7"/>
<path d="M369.4,231.3 L370.6,235.3 L374.8,235.2 L371.4,237.6 L372.8,241.6 L369.4,239.1 L366.0,241.6 L367.4,237.6 L364.0,235.2 L368.2,235.3 Z" fill="none" stroke="#1a1a1a" stroke-width="1.7"/>
<path d="M377.8,242.3 L379.0,246.3 L383.2,246.2 L379.8,248.6 L381.2,252.6 L377.8,250.1 L374.4,252.6 L375.8,248.6 L372.4,246.2 L376.6,246.3 Z" fill="none" stroke="#1a1a1a" stroke-width="1.7"/>
<path d="M386.0,245.1 L387.2,249.1 L391.4,249.0 L388.0,251.4 L389.4,255.4 L386.0,252.9 L382.6,255.4 L384.0,251.4 L380.6,249.0 L384.8,249.1 Z" fill="none" stroke="#1a1a1a" stroke-width="1.7"/>
<path d="M394.0,255.5 L395.2,259.5 L399.4,259.4 L396.0,261.8 L397.4,265.8 L394.0,263.3 L390.6,265.8 L392.0,261.8 L388.6,259.4 L392.8,259.5 Z" fill="none" stroke="#1a1a1a" stroke-width="1.7"/>
<path d="M400.0,255.8 L401.2,259.8 L405.4,259.7 L402.0,262.1 L403.4,266.1 L400.0,263.6 L396.6,266.1 L398.0,262.1 L394.6,259.7 L398.8,259.8 Z" fill="none" stroke="#1a1a1a" stroke-width="1.7"/>
<path d="M404.0,262.6 L405.2,266.6 L409.4,266.5 L406.0,268.9 L407.4,272.9 L404.0,270.4 L400.6,272.9 L402.0,268.9 L398.6,266.5 L402.8,266.6 Z" fill="none" stroke="#1a1a1a" stroke-width="1.7"/>
<path d="M408.0,260.9 L409.2,264.9 L413.4,264.8 L410.0,267.2 L411.4,271.2 L408.0,268.7 L404.6,271.2 L406.0,267.2 L402.6,264.8 L406.8,264.9 Z" fill="none" stroke="#1a1a1a" stroke-width="1.7"/>
<path d="M412.0,267.0 L413.2,271.1 L417.4,271.0 L414.0,273.4 L415.4,277.3 L412.0,274.8 L408.6,277.3 L410.0,273.4 L406.6,271.0 L410.8,271.1 Z" fill="none" stroke="#1a1a1a" stroke-width="1.7"/>
<path d="M416.0,265.2 L417.2,269.2 L421.4,269.1 L418.0,271.5 L419.4,275.5 L416.0,272.9 L412.6,275.5 L414.0,271.5 L410.6,269.1 L414.8,269.2 Z" fill="none" stroke="#1a1a1a" stroke-width="1.7"/>
<path d="M420.0,271.3 L421.2,275.3 L425.4,275.2 L422.0,277.6 L423.4,281.6 L420.0,279.1 L416.6,281.6 L418.0,277.6 L414.6,275.2 L418.8,275.3 Z" fill="none" stroke="#1a1a1a" stroke-width="1.7"/>
<path d="M424.0,269.5 L425.2,273.5 L429.4,273.4 L426.0,275.8 L427.4,279.8 L424.0,277.3 L420.6,279.8 L422.0,275.8 L418.6,273.4 L422.8,273.5 Z" fill="none" stroke="#1a1a1a" stroke-width="1.7"/>
<path d="M428.0,275.7 L429.2,279.7 L433.4,279.6 L430.0,282.0 L431.4,286.0 L428.0,283.5 L424.6,286.0 L426.0,282.0 L422.6,279.6 L426.8,279.7 Z" fill="none" stroke="#1a1a1a" stroke-width="1.7"/>
<path d="M432.0,273.9 L433.2,277.9 L437.4,277.8 L434.0,280.2 L435.4,284.2 L432.0,281.7 L428.6,284.2 L430.0,280.2 L426.6,277.8 L430.8,277.9 Z" fill="none" stroke="#1a1a1a" stroke-width="1.7"/>
<path d="M436.0,280.1 L437.2,284.1 L441.4,284.0 L438.0,286.4 L439.4,290.4 L436.0,287.9 L432.6,290.4 L434.0,286.4 L430.6,284.0 L434.8,284.1 Z" fill="none" stroke="#1a1a1a" stroke-width="1.7"/>
<path d="M440.0,278.3 L441.2,282.3 L445.4,282.2 L442.0,284.6 L443.4,288.6 L440.0,286.1 L436.6,288.6 L438.0,284.6 L434.6,282.2 L438.8,282.3 Z" fill="none" stroke="#1a1a1a" stroke-width="1.7"/>
<path d="M444.0,283.9 L445.2,287.9 L449.4,287.8 L446.0,290.2 L447.4,294.2 L444.0,291.7 L440.6,294.2 L442.0,290.2 L438.6,287.8 L442.8,287.9 Z" fill="none" stroke="#1a1a1a" stroke-width="1.7"/>
<path d="M448.0,281.5 L449.2,285.5 L453.4,285.4 L450.0,287.8 L451.4,291.8 L448.0,289.3 L444.6,291.8 L446.0,287.8 L442.6,285.4 L446.8,285.5 Z" fill="none" stroke="#1a1a1a" stroke-width="1.7"/>
<path d="M452.0,286.7 L453.2,290.8 L457.4,290.7 L454.0,293.1 L455.4,297.0 L452.0,294.5 L448.6,297.0 L450.0,293.1 L446.6,290.7 L450.8,290.8 Z" fill="none" stroke="#1a1a1a" stroke-width="1.7"/>
<path d="M455.0,283.4 L456.2,287.4 L460.4,287.3 L457.0,289.7 L458.4,293.7 L455.0,291.1 L451.6,293.7 L453.0,289.7 L449.6,287.3 L453.8,287.4 Z" fill="none" stroke="#1a1a1a" stroke-width="1.7"/>
<path d="M458.0,288.0 L459.2,292.0 L463.4,291.9 L460.0,294.3 L461.4,298.3 L458.0,295.7 L454.6,298.3 L456.0,294.3 L452.6,291.9 L456.8,292.0 Z" fill="none" stroke="#1a1a1a" stroke-width="1.7"/>
<path d="M461.0,284.6 L462.2,288.7 L466.4,288.6 L463.0,291.0 L464.4,294.9 L461.0,292.4 L457.6,294.9 L459.0,291.0 L455.6,288.6 L459.8,288.7 Z" fill="none" stroke="#1a1a1a" stroke-width="1.7"/>
<path d="M96.3,28.9 L97.8,31.3 L100.5,31.3 L99.2,33.8 L100.5,36.2 L97.8,36.3 L96.3,38.7 L94.8,36.3 L92.1,36.2 L93.4,33.8 L92.1,31.3 L94.8,31.3 Z" fill="none" stroke="#1a1a1a" stroke-width="1.5"/>
<path d="M125.5,43.1 L127.0,45.5 L129.7,45.5 L128.4,48.0 L129.7,50.5 L127.0,50.5 L125.5,52.9 L124.0,50.5 L121.3,50.5 L122.6,48.0 L121.3,45.5 L124.0,45.5 Z" fill="none" stroke="#1a1a1a" stroke-width="1.5"/>
<path d="M130.0,43.9 L131.5,46.3 L134.2,46.3 L132.9,48.8 L134.2,51.2 L131.5,51.3 L130.0,53.7 L128.5,51.3 L125.8,51.2 L127.1,48.8 L125.8,46.3 L128.5,46.3 Z" fill="none" stroke="#1a1a1a" stroke-width="1.5"/>
<path d="M151.0,54.4 L152.5,56.8 L155.2,56.8 L153.9,59.3 L155.2,61.8 L152.5,61.8 L151.0,64.2 L149.5,61.8 L146.8,61.8 L148.1,59.3 L146.8,56.8 L149.5,56.8 Z" fill="none" stroke="#1a1a1a" stroke-width="1.5"/>
<path d="M164.7,63.7 L166.2,66.1 L168.9,66.2 L167.6,68.6 L168.9,71.1 L166.2,71.2 L164.7,73.5 L163.2,71.2 L160.5,71.1 L161.8,68.6 L160.5,66.2 L163.2,66.1 Z" fill="none" stroke="#1a1a1a" stroke-width="1.5"/>
<path d="M172.2,68.1 L173.7,70.5 L176.4,70.6 L175.1,73.0 L176.4,75.5 L173.7,75.6 L172.2,77.9 L170.7,75.6 L168.0,75.5 L169.3,73.0 L168.0,70.6 L170.7,70.5 Z" fill="none" stroke="#1a1a1a" stroke-width="1.5"/>
<path d="M193.8,86.6 L195.3,89.0 L198.0,89.0 L196.7,91.5 L198.0,94.0 L195.3,94.0 L193.8,96.4 L192.3,94.0 L189.6,94.0 L190.9,91.5 L189.6,89.0 L192.3,89.0 Z" fill="none" stroke="#1a1a1a" stroke-width="1.5"/>
<path d="M205.0,99.0 L206.5,101.4 L209.2,101.5 L207.9,103.9 L209.2,106.4 L206.5,106.4 L205.0,108.8 L203.5,106.4 L200.8,106.4 L202.1,103.9 L200.8,101.5 L203.5,101.4 Z" fill="none" stroke="#1a1a1a" stroke-width="1.5"/>
<path d="M212.5,106.6 L214.0,109.0 L216.7,109.0 L215.4,111.5 L216.7,114.0 L214.0,114.0 L212.5,116.4 L211.0,114.0 L208.3,114.0 L209.6,111.5 L208.3,109.0 L211.0,109.0 Z" fill="none" stroke="#1a1a1a" stroke-width="1.5"/>
<path d="M219.0,114.7 L220.5,117.0 L223.2,117.1 L221.9,119.6 L223.2,122.0 L220.5,122.1 L219.0,124.5 L217.5,122.1 L214.8,122.0 L216.1,119.6 L214.8,117.1 L217.5,117.0 Z" fill="none" stroke="#1a1a1a" stroke-width="1.5"/>
<path d="M226.6,120.6 L228.1,123.0 L230.8,123.0 L229.5,125.5 L230.8,128.0 L228.1,128.0 L226.6,130.4 L225.1,128.0 L222.4,128.0 L223.7,125.5 L222.4,123.0 L225.1,123.0 Z" fill="none" stroke="#1a1a1a" stroke-width="1.5"/>
<path d="M233.0,126.7 L234.5,129.0 L237.2,129.1 L235.9,131.6 L237.2,134.0 L234.5,134.1 L233.0,136.5 L231.5,134.1 L228.8,134.0 L230.1,131.6 L228.8,129.1 L231.5,129.0 Z" fill="none" stroke="#1a1a1a" stroke-width="1.5"/>
<path d="M240.3,133.1 L241.8,135.5 L244.5,135.6 L243.2,138.0 L244.5,140.4 L241.8,140.5 L240.3,142.9 L238.8,140.5 L236.1,140.4 L237.4,138.0 L236.1,135.6 L238.8,135.5 Z" fill="none" stroke="#1a1a1a" stroke-width="1.5"/>
<path d="M250.7,139.6 L252.2,142.0 L254.9,142.1 L253.6,144.5 L254.9,146.9 L252.2,147.0 L250.7,149.4 L249.2,147.0 L246.5,146.9 L247.8,144.5 L246.5,142.1 L249.2,142.0 Z" fill="none" stroke="#1a1a1a" stroke-width="1.5"/>
<path d="M256.0,144.3 L257.5,146.6 L260.2,146.7 L258.9,149.2 L260.2,151.6 L257.5,151.7 L256.0,154.1 L254.5,151.7 L251.8,151.6 L253.1,149.2 L251.8,146.7 L254.5,146.6 Z" fill="none" stroke="#1a1a1a" stroke-width="1.5"/>
<path d="M266.6,152.8 L268.1,155.2 L270.8,155.2 L269.5,157.7 L270.8,160.1 L268.1,160.2 L266.6,162.6 L265.1,160.2 L262.4,160.1 L263.7,157.7 L262.4,155.2 L265.1,155.2 Z" fill="none" stroke="#1a1a1a" stroke-width="1.5"/>
<path d="M272.0,156.2 L273.5,158.5 L276.2,158.6 L274.9,161.1 L276.2,163.5 L273.5,163.6 L272.0,166.0 L270.5,163.6 L267.8,163.5 L269.1,161.1 L267.8,158.6 L270.5,158.5 Z" fill="none" stroke="#1a1a1a" stroke-width="1.5"/>
<path d="M282.5,164.0 L284.0,166.4 L286.7,166.5 L285.4,168.9 L286.7,171.3 L284.0,171.4 L282.5,173.8 L281.0,171.4 L278.3,171.3 L279.6,168.9 L278.3,166.5 L281.0,166.4 Z" fill="none" stroke="#1a1a1a" stroke-width="1.5"/>
<path d="M290.0,168.7 L291.5,171.1 L294.2,171.2 L292.9,173.6 L294.2,176.0 L291.5,176.1 L290.0,178.5 L288.5,176.1 L285.8,176.0 L287.1,173.6 L285.8,171.2 L288.5,171.1 Z" fill="none" stroke="#1a1a1a" stroke-width="1.5"/>
<path d="M299.3,175.6 L300.8,178.0 L303.5,178.1 L302.2,180.5 L303.5,182.9 L300.8,183.0 L299.3,185.4 L297.8,183.0 L295.1,182.9 L296.4,180.5 L295.1,178.1 L297.8,178.0 Z" fill="none" stroke="#1a1a1a" stroke-width="1.5"/>
<path d="M304.0,179.9 L305.5,182.2 L308.2,182.3 L306.9,184.8 L308.2,187.2 L305.5,187.3 L304.0,189.7 L302.5,187.3 L299.8,187.2 L301.1,184.8 L299.8,182.3 L302.5,182.2 Z" fill="none" stroke="#1a1a1a" stroke-width="1.5"/>
<path d="M315.3,191.6 L316.8,194.0 L319.5,194.1 L318.2,196.5 L319.5,198.9 L316.8,199.0 L315.3,201.4 L313.8,199.0 L311.1,198.9 L312.4,196.5 L311.1,194.1 L313.8,194.0 Z" fill="none" stroke="#1a1a1a" stroke-width="1.5"/>
<path d="M325.0,199.2 L326.5,201.5 L329.2,201.6 L327.9,204.1 L329.2,206.5 L326.5,206.6 L325.0,209.0 L323.5,206.6 L320.8,206.5 L322.1,204.1 L320.8,201.6 L323.5,201.5 Z" fill="none" stroke="#1a1a1a" stroke-width="1.5"/>
<path d="M331.4,204.3 L332.9,206.7 L335.6,206.8 L334.3,209.2 L335.6,211.6 L332.9,211.7 L331.4,214.1 L329.9,211.7 L327.2,211.6 L328.5,209.2 L327.2,206.8 L329.9,206.7 Z" fill="none" stroke="#1a1a1a" stroke-width="1.5"/>
<path d="M340.0,210.2 L341.5,212.5 L344.2,212.6 L342.9,215.1 L344.2,217.5 L341.5,217.6 L340.0,220.0 L338.5,217.6 L335.8,217.5 L337.1,215.1 L335.8,212.6 L338.5,212.5 Z" fill="none" stroke="#1a1a1a" stroke-width="1.5"/>
<path d="M348.0,215.2 L349.5,217.6 L352.2,217.7 L350.9,220.1 L352.2,222.6 L349.5,222.7 L348.0,225.0 L346.5,222.7 L343.8,222.6 L345.1,220.1 L343.8,217.7 L346.5,217.6 Z" fill="none" stroke="#1a1a1a" stroke-width="1.5"/>
<path d="M356.0,220.7 L357.5,223.1 L360.2,223.2 L358.9,225.6 L360.2,228.1 L357.5,228.2 L356.0,230.5 L354.5,228.2 L351.8,228.1 L353.1,225.6 L351.8,223.2 L354.5,223.1 Z" fill="none" stroke="#1a1a1a" stroke-width="1.5"/>
<path d="M365.0,231.9 L366.5,234.3 L369.2,234.4 L367.9,236.8 L369.2,239.3 L366.5,239.4 L365.0,241.7 L363.5,239.4 L360.8,239.3 L362.1,236.8 L360.8,234.4 L363.5,234.3 Z" fill="none" stroke="#1a1a1a" stroke-width="1.5"/>
<path d="M373.0,233.6 L374.5,236.0 L377.2,236.1 L375.9,238.5 L377.2,240.9 L374.5,241.0 L373.0,243.4 L371.5,241.0 L368.8,240.9 L370.1,238.5 L368.8,236.1 L371.5,236.0 Z" fill="none" stroke="#1a1a1a" stroke-width="1.5"/>
<path d="M381.0,245.8 L382.5,248.1 L385.2,248.2 L383.9,250.7 L385.2,253.1 L382.5,253.2 L381.0,255.6 L379.5,253.2 L376.8,253.1 L378.1,250.7 L376.8,248.2 L379.5,248.1 Z" fill="none" stroke="#1a1a1a" stroke-width="1.5"/>
<path d="M389.0,246.8 L390.5,249.2 L393.2,249.2 L391.9,251.7 L393.2,254.1 L390.5,254.2 L389.0,256.6 L387.5,254.2 L384.8,254.1 L386.1,251.7 L384.8,249.2 L387.5,249.2 Z" fill="none" stroke="#1a1a1a" stroke-width="1.5"/>
<path d="M397.0,258.5 L398.5,260.9 L401.2,260.9 L399.9,263.4 L401.2,265.8 L398.5,265.9 L397.0,268.3 L395.5,265.9 L392.8,265.8 L394.1,263.4 L392.8,260.9 L395.5,260.9 Z" fill="none" stroke="#1a1a1a" stroke-width="1.5"/>
<path d="M402.0,256.5 L403.5,258.9 L406.2,258.9 L404.9,261.4 L406.2,263.8 L403.5,263.9 L402.0,266.3 L400.5,263.9 L397.8,263.8 L399.1,261.4 L397.8,258.9 L400.5,258.9 Z" fill="none" stroke="#1a1a1a" stroke-width="1.5"/>
<path d="M406.0,264.6 L407.5,267.0 L410.2,267.1 L408.9,269.5 L410.2,272.0 L407.5,272.1 L406.0,274.4 L404.5,272.1 L401.8,272.0 L403.1,269.5 L401.8,267.1 L404.5,267.0 Z" fill="none" stroke="#1a1a1a" stroke-width="1.5"/>
<path d="M410.0,261.3 L411.5,263.6 L414.2,263.7 L412.9,266.2 L414.2,268.6 L411.5,268.7 L410.0,271.1 L408.5,268.7 L405.8,268.6 L407.1,266.2 L405.8,263.7 L408.5,263.6 Z" fill="none" stroke="#1a1a1a" stroke-width="1.5"/>
<path d="M414.0,268.9 L415.5,271.3 L418.2,271.4 L416.9,273.8 L418.2,276.2 L415.5,276.3 L414.0,278.7 L412.5,276.3 L409.8,276.2 L411.1,273.8 L409.8,271.4 L412.5,271.3 Z" fill="none" stroke="#1a1a1a" stroke-width="1.5"/>
<path d="M418.0,265.5 L419.5,267.9 L422.2,268.0 L420.9,270.4 L422.2,272.9 L419.5,273.0 L418.0,275.3 L416.5,273.0 L413.8,272.9 L415.1,270.4 L413.8,268.0 L416.5,267.9 Z" fill="none" stroke="#1a1a1a" stroke-width="1.5"/>
<path d="M422.0,273.2 L423.5,275.6 L426.2,275.7 L424.9,278.1 L426.2,280.6 L423.5,280.6 L422.0,283.0 L420.5,280.6 L417.8,280.6 L419.1,278.1 L417.8,275.7 L420.5,275.6 Z" fill="none" stroke="#1a1a1a" stroke-width="1.5"/>
<path d="M426.0,269.9 L427.5,272.3 L430.2,272.4 L428.9,274.8 L430.2,277.2 L427.5,277.3 L426.0,279.7 L424.5,277.3 L421.8,277.2 L423.1,274.8 L421.8,272.4 L424.5,272.3 Z" fill="none" stroke="#1a1a1a" stroke-width="1.5"/>
<path d="M430.0,277.6 L431.5,280.0 L434.2,280.1 L432.9,282.5 L434.2,284.9 L431.5,285.0 L430.0,287.4 L428.5,285.0 L425.8,284.9 L427.1,282.5 L425.8,280.1 L428.5,280.0 Z" fill="none" stroke="#1a1a1a" stroke-width="1.5"/>
<path d="M434.0,274.3 L435.5,276.7 L438.2,276.8 L436.9,279.2 L438.2,281.6 L435.5,281.7 L434.0,284.1 L432.5,281.7 L429.8,281.6 L431.1,279.2 L429.8,276.8 L432.5,276.7 Z" fill="none" stroke="#1a1a1a" stroke-width="1.5"/>
<path d="M438.0,282.0 L439.5,284.4 L442.2,284.4 L440.9,286.9 L442.2,289.3 L439.5,289.4 L438.0,291.8 L436.5,289.4 L433.8,289.3 L435.1,286.9 L433.8,284.4 L436.5,284.4 Z" fill="none" stroke="#1a1a1a" stroke-width="1.5"/>
<path d="M442.0,278.4 L443.5,280.8 L446.2,280.9 L444.9,283.3 L446.2,285.8 L443.5,285.8 L442.0,288.2 L440.5,285.8 L437.8,285.8 L439.1,283.3 L437.8,280.9 L440.5,280.8 Z" fill="none" stroke="#1a1a1a" stroke-width="1.5"/>
<path d="M446.0,285.5 L447.5,287.9 L450.2,287.9 L448.9,290.4 L450.2,292.8 L447.5,292.9 L446.0,295.3 L444.5,292.9 L441.8,292.8 L443.1,290.4 L441.8,287.9 L444.5,287.9 Z" fill="none" stroke="#1a1a1a" stroke-width="1.5"/>
<path d="M450.0,281.6 L451.5,284.0 L454.2,284.1 L452.9,286.5 L454.2,288.9 L451.5,289.0 L450.0,291.4 L448.5,289.0 L445.8,288.9 L447.1,286.5 L445.8,284.1 L448.5,284.0 Z" fill="none" stroke="#1a1a1a" stroke-width="1.5"/>
<path d="M454.0,287.9 L455.5,290.3 L458.2,290.4 L456.9,292.8 L458.2,295.3 L455.5,295.4 L454.0,297.7 L452.5,295.4 L449.8,295.3 L451.1,292.8 L449.8,290.4 L452.5,290.3 Z" fill="none" stroke="#1a1a1a" stroke-width="1.5"/>
<path d="M458.0,283.3 L459.5,285.6 L462.2,285.7 L460.9,288.2 L462.2,290.6 L459.5,290.7 L458.0,293.1 L456.5,290.7 L453.8,290.6 L455.1,288.2 L453.8,285.7 L456.5,285.6 Z" fill="none" stroke="#1a1a1a" stroke-width="1.5"/>
<path d="M461.0,289.4 L462.5,291.8 L465.2,291.9 L463.9,294.3 L465.2,296.8 L462.5,296.9 L461.0,299.2 L459.5,296.9 L456.8,296.8 L458.1,294.3 L456.8,291.9 L459.5,291.8 Z" fill="none" stroke="#1a1a1a" stroke-width="1.5"/>
<path d="M97.3,129.5 L98.3,130.1 L99.3,130.7 L100.5,131.5 L101.9,132.4 L103.8,133.6 L106.3,135.1 L109.5,137.2 L113.6,139.7 L118.6,142.8 L124.3,146.5 L130.7,150.7 L137.7,155.2 L145.2,159.9 L153.2,164.9 L161.5,170.0 L170.0,175.0 L179.3,180.3 L189.7,186.2 L200.8,192.4 L212.2,198.6 L223.3,204.7 L234.0,210.4 L243.7,215.6 L252.0,220.0 L258.7,223.5 L264.2,226.2 L268.7,228.4 L272.6,230.2 L276.4,231.9 L280.3,233.5 L284.7,235.4 L290.0,237.6 L296.3,240.2 L303.4,243.1 L311.0,246.1 L318.7,249.1 L326.3,252.1 L333.6,254.9 L340.1,257.4 L345.7,259.5 L350.2,261.2 L353.8,262.5 L356.7,263.6 L359.2,264.5 L361.6,265.2 L364.0,266.0 L366.7,266.8 L370.0,267.8 L373.8,268.9 L378.0,270.1 L382.3,271.3 L386.8,272.5 L391.3,273.6 L395.7,274.8 L399.9,275.8 L403.8,276.8 L407.4,277.7 L410.8,278.4 L414.0,279.1 L417.2,279.7 L420.3,280.3 L423.4,281.0 L426.6,281.7 L430.0,282.4 L433.7,283.3 L437.8,284.2 L442.1,285.3 L446.4,286.3 L450.5,287.3 L454.1,288.2 L457.2,288.9 L459.5,289.5" fill="none" stroke="#1a1a1a" stroke-width="1.9" stroke-linejoin="round"/>
<path d="M97.3,96.7 L100.6,99.0 L105.1,102.3 L110.6,106.1 L116.5,110.4 L122.5,114.6 L128.3,118.7 L133.3,122.2 L137.3,125.0 L140.1,126.9 L142.0,128.1 L143.3,128.9 L144.3,129.5 L145.2,130.0 L146.2,130.6 L147.8,131.5 L150.0,133.0 L153.0,135.1 L156.5,137.6 L160.4,140.4 L164.6,143.3 L168.8,146.3 L172.8,149.1 L176.6,151.7 L180.0,153.8 L182.9,155.4 L185.4,156.7 L187.7,157.7 L189.8,158.6 L192.0,159.4 L194.2,160.3 L196.7,161.4 L199.5,162.8 L202.7,164.6 L206.2,166.6 L210.0,168.7 L213.8,171.0 L217.7,173.3 L221.4,175.5 L224.9,177.5 L228.0,179.3 L230.8,180.8 L233.3,182.2 L235.7,183.5 L237.9,184.6 L240.0,185.7 L242.0,186.8 L244.0,187.9 L246.0,189.0 L247.6,190.0 L248.5,190.7 L249.1,191.3 L249.8,192.0 L250.8,192.8 L252.7,194.0 L255.6,195.7 L260.0,198.0 L266.0,201.1 L273.5,204.8 L282.0,209.1 L291.3,213.7 L301.0,218.4 L310.9,223.2 L320.7,227.7 L330.0,232.0 L339.2,236.1 L348.6,240.2 L358.2,244.3 L367.8,248.3 L377.3,252.2 L386.5,255.9 L395.4,259.3 L403.8,262.5 L412.0,265.4 L420.3,268.2 L428.5,270.8 L436.3,273.2 L443.5,275.4 L449.9,277.2 L455.3,278.8 L459.5,280.1" fill="none" stroke="#1a1a1a" stroke-width="1.8" stroke-dasharray="4.4 2.2" stroke-linejoin="round"/>
<path d="M97.3,78.6 L101.3,81.2 L106.6,84.5 L112.9,88.5 L119.9,93.0 L127.4,97.8 L135.1,102.8 L142.7,107.8 L150.0,112.7 L157.2,117.7 L164.7,123.1 L172.4,128.7 L180.2,134.4 L187.9,140.1 L195.5,145.6 L202.9,150.8 L210.0,155.7 L216.7,160.2 L223.0,164.3 L229.0,168.2 L235.0,172.0 L241.0,175.7 L247.0,179.3 L253.3,183.0 L260.0,186.8 L267.0,190.7 L274.1,194.6 L281.5,198.6 L288.9,202.5 L296.6,206.4 L304.3,210.3 L312.1,214.2 L320.0,218.0 L328.2,221.9 L336.8,225.8 L345.6,229.8 L354.5,233.7 L363.3,237.5 L371.7,241.1 L379.6,244.4 L386.9,247.4 L393.5,250.0 L399.7,252.2 L405.4,254.2 L410.8,256.0 L415.9,257.6 L420.7,259.2 L425.4,260.7 L430.0,262.2 L434.5,263.8 L439.0,265.3 L443.4,266.8 L447.4,268.2 L451.2,269.5 L454.5,270.7 L457.3,271.6 L459.5,272.4" fill="none" stroke="#1a1a1a" stroke-width="1.9" stroke-dasharray="1.3 2.1" stroke-linejoin="round"/>
<path d="M97.3,62.0 L99.1,63.4 L101.5,65.2 L104.4,67.4 L107.6,69.8 L111.0,72.4 L114.6,75.0 L118.1,77.6 L121.5,80.0 L124.6,82.2 L127.6,84.1 L130.5,86.0 L133.5,87.9 L136.8,90.1 L140.6,92.5 L144.9,95.5 L150.0,99.0 L155.9,103.2 L162.3,107.9 L169.3,113.1 L176.8,118.7 L184.7,124.5 L192.9,130.3 L201.3,136.2 L210.0,142.0 L219.0,147.8 L228.6,153.8 L238.5,159.9 L248.8,166.1 L259.1,172.3 L269.5,178.3 L279.9,184.3 L290.0,190.0 L300.1,195.6 L310.5,201.2 L320.9,206.8 L331.2,212.2 L341.5,217.5 L351.4,222.5 L361.0,227.2 L370.0,231.5 L378.7,235.5 L387.1,239.2 L395.3,242.6 L403.2,245.8 L410.6,248.7 L417.6,251.3 L424.1,253.8 L430.0,256.0 L435.3,258.0 L440.2,259.6 L444.6,261.0 L448.5,262.2 L451.9,263.2 L454.9,264.0 L457.4,264.7 L459.5,265.3" fill="none" stroke="#1a1a1a" stroke-width="1.8" stroke-dasharray="3.8 1.9 1.2 1.9" stroke-linejoin="round"/>
<path d="M97.3,54.3 L99.5,56.0 L102.1,58.0 L105.1,60.4 L108.6,63.2 L112.8,66.4 L117.7,69.9 L123.4,73.8 L130.0,78.0 L137.6,82.6 L146.3,87.6 L155.9,93.0 L166.1,98.8 L176.8,104.8 L187.8,111.2 L199.0,117.8 L210.0,124.6 L221.5,132.1 L234.0,140.5 L247.0,149.4 L260.1,158.4 L272.9,167.3 L284.9,175.5 L295.8,182.9 L305.0,189.0 L312.5,193.7 L318.5,197.3 L323.3,200.1 L327.4,202.3 L331.1,204.2 L334.7,205.9 L338.5,207.7 L343.0,209.9 L347.9,212.3 L352.7,214.6 L357.5,216.8 L362.4,219.1 L367.4,221.3 L372.5,223.5 L377.7,225.9 L383.0,228.3 L388.7,230.9 L394.7,233.7 L400.9,236.6 L407.2,239.6 L413.3,242.4 L419.3,245.2 L424.9,247.6 L430.0,249.8 L434.7,251.7 L439.3,253.3 L443.6,254.8 L447.7,256.1 L451.4,257.3 L454.6,258.3 L457.3,259.1 L459.5,259.8" fill="none" stroke="#6e6e6e" stroke-width="1.9" stroke-linejoin="round"/>
<path d="M97.3,46.1 L101.1,48.8 L105.9,52.3 L111.7,56.4 L118.1,61.1 L125.2,66.1 L132.6,71.3 L140.3,76.7 L148.0,82.0 L156.0,87.4 L164.5,93.2 L173.5,99.3 L182.8,105.5 L192.2,111.8 L201.6,118.0 L211.0,124.1 L220.0,130.0 L228.8,135.7 L237.4,141.3 L246.0,146.8 L254.5,152.3 L263.1,157.7 L271.8,163.1 L280.8,168.4 L290.0,173.8 L299.7,179.2 L309.8,184.8 L320.1,190.3 L330.6,195.8 L341.0,201.2 L351.2,206.4 L360.9,211.4 L370.0,216.0 L378.7,220.4 L387.1,224.5 L395.3,228.5 L403.2,232.3 L410.6,235.8 L417.6,239.1 L424.1,242.0 L430.0,244.7 L435.3,247.0 L440.2,249.0 L444.6,250.7 L448.5,252.1 L451.9,253.4 L454.9,254.4 L457.4,255.2 L459.5,256.0" fill="none" stroke="#6e6e6e" stroke-width="1.8" stroke-dasharray="4.4 2.2" stroke-linejoin="round"/>
</g>
<path d="M94.8,722.5 L102.7,714.5 L116.7,699.8 L132.3,688.0 L147.5,672.0 L160.8,656.0 L170.5,657.0 L182.3,652.0 L201.0,648.8 L215.1,638.3 L229.3,643.4 L245.0,650.8 L262.1,652.2 L276.7,670.7 L291.5,681.7 L306.2,698.3 L326.8,731.8 L342.0,755.4 L356.2,775.0 L371.4,777.5 L388.1,764.7 L404.1,736.8 L422.6,726.1 L437.1,666.9 L451.8,635.4 L461.3,601.5" fill="none" stroke="#1a1a1a" stroke-width="1.7" stroke-linejoin="round"/>
<rect x="91.3" y="719.0" width="7.0" height="7.0" fill="none" stroke="#1a1a1a" stroke-width="1.6"/>
<rect x="99.2" y="711.0" width="7.0" height="7.0" fill="none" stroke="#1a1a1a" stroke-width="1.6"/>
<rect x="113.2" y="696.3" width="7.0" height="7.0" fill="none" stroke="#1a1a1a" stroke-width="1.6"/>
<rect x="128.8" y="684.5" width="7.0" height="7.0" fill="none" stroke="#1a1a1a" stroke-width="1.6"/>
<rect x="144.0" y="668.5" width="7.0" height="7.0" fill="none" stroke="#1a1a1a" stroke-width="1.6"/>
<rect x="157.3" y="652.5" width="7.0" height="7.0" fill="none" stroke="#1a1a1a" stroke-width="1.6"/>
<rect x="167.0" y="653.5" width="7.0" height="7.0" fill="none" stroke="#1a1a1a" stroke-width="1.6"/>
<rect x="178.8" y="648.5" width="7.0" height="7.0" fill="none" stroke="#1a1a1a" stroke-width="1.6"/>
<rect x="197.5" y="645.3" width="7.0" height="7.0" fill="none" stroke="#1a1a1a" stroke-width="1.6"/>
<rect x="211.6" y="634.8" width="7.0" height="7.0" fill="none" stroke="#1a1a1a" stroke-width="1.6"/>
<rect x="225.8" y="639.9" width="7.0" height="7.0" fill="none" stroke="#1a1a1a" stroke-width="1.6"/>
<rect x="241.5" y="647.3" width="7.0" height="7.0" fill="none" stroke="#1a1a1a" stroke-width="1.6"/>
<rect x="258.6" y="648.7" width="7.0" height="7.0" fill="none" stroke="#1a1a1a" stroke-width="1.6"/>
<rect x="273.2" y="667.2" width="7.0" height="7.0" fill="none" stroke="#1a1a1a" stroke-width="1.6"/>
<rect x="288.0" y="678.2" width="7.0" height="7.0" fill="none" stroke="#1a1a1a" stroke-width="1.6"/>
<rect x="302.7" y="694.8" width="7.0" height="7.0" fill="none" stroke="#1a1a1a" stroke-width="1.6"/>
<rect x="323.3" y="728.3" width="7.0" height="7.0" fill="none" stroke="#1a1a1a" stroke-width="1.6"/>
<rect x="338.5" y="751.9" width="7.0" height="7.0" fill="none" stroke="#1a1a1a" stroke-width="1.6"/>
<rect x="352.7" y="771.5" width="7.0" height="7.0" fill="none" stroke="#1a1a1a" stroke-width="1.6"/>
<rect x="367.9" y="774.0" width="7.0" height="7.0" fill="none" stroke="#1a1a1a" stroke-width="1.6"/>
<rect x="384.6" y="761.2" width="7.0" height="7.0" fill="none" stroke="#1a1a1a" stroke-width="1.6"/>
<rect x="400.6" y="733.3" width="7.0" height="7.0" fill="none" stroke="#1a1a1a" stroke-width="1.6"/>
<rect x="419.1" y="722.6" width="7.0" height="7.0" fill="none" stroke="#1a1a1a" stroke-width="1.6"/>
<rect x="433.6" y="663.4" width="7.0" height="7.0" fill="none" stroke="#1a1a1a" stroke-width="1.6"/>
<rect x="448.3" y="631.9" width="7.0" height="7.0" fill="none" stroke="#1a1a1a" stroke-width="1.6"/>
<rect x="457.8" y="598.0" width="7.0" height="7.0" fill="none" stroke="#1a1a1a" stroke-width="1.6"/>
<path d="M96.3,766.0 L110.0,752.0 L124.0,736.8 L137.0,725.0 L150.3,704.1 L168.1,694.7 L181.3,696.6 L194.4,699.4 L205.7,706.9 L215.0,714.4 L226.5,709.0 L236.0,724.6 L247.8,722.9 L261.3,738.1 L277.4,739.0 L286.7,757.6 L301.0,763.5 L316.9,771.3 L331.9,778.8 L346.9,769.5 L361.9,762.0 L372.2,727.2 L382.6,701.9 L390.0,686.7 L404.1,658.7 L414.4,648.4 L426.8,634.9 L437.1,616.0 L444.3,604.0 L451.5,590.6 L456.5,551.5" fill="none" stroke="#1a1a1a" stroke-width="1.7" stroke-dasharray="4.4 2.2" stroke-linejoin="round"/>
<path d="M96.3,761.4 L99.8,766.0 L96.3,770.6 L92.8,766.0 Z" fill="none" stroke="#1a1a1a" stroke-width="1.6"/>
<path d="M110.0,747.4 L113.5,752.0 L110.0,756.6 L106.5,752.0 Z" fill="none" stroke="#1a1a1a" stroke-width="1.6"/>
<path d="M124.0,732.2 L127.5,736.8 L124.0,741.4 L120.5,736.8 Z" fill="none" stroke="#1a1a1a" stroke-width="1.6"/>
<path d="M137.0,720.4 L140.5,725.0 L137.0,729.6 L133.5,725.0 Z" fill="none" stroke="#1a1a1a" stroke-width="1.6"/>
<path d="M150.3,699.5 L153.8,704.1 L150.3,708.7 L146.8,704.1 Z" fill="none" stroke="#1a1a1a" stroke-width="1.6"/>
<path d="M168.1,690.1 L171.6,694.7 L168.1,699.3 L164.6,694.7 Z" fill="none" stroke="#1a1a1a" stroke-width="1.6"/>
<path d="M181.3,692.0 L184.8,696.6 L181.3,701.2 L177.8,696.6 Z" fill="none" stroke="#1a1a1a" stroke-width="1.6"/>
<path d="M194.4,694.8 L197.9,699.4 L194.4,704.0 L190.9,699.4 Z" fill="none" stroke="#1a1a1a" stroke-width="1.6"/>
<path d="M205.7,702.3 L209.2,706.9 L205.7,711.5 L202.2,706.9 Z" fill="none" stroke="#1a1a1a" stroke-width="1.6"/>
<path d="M215.0,709.8 L218.5,714.4 L215.0,719.0 L211.5,714.4 Z" fill="none" stroke="#1a1a1a" stroke-width="1.6"/>
<path d="M226.5,704.4 L230.0,709.0 L226.5,713.6 L223.0,709.0 Z" fill="none" stroke="#1a1a1a" stroke-width="1.6"/>
<path d="M236.0,720.0 L239.5,724.6 L236.0,729.2 L232.5,724.6 Z" fill="none" stroke="#1a1a1a" stroke-width="1.6"/>
<path d="M247.8,718.3 L251.3,722.9 L247.8,727.5 L244.3,722.9 Z" fill="none" stroke="#1a1a1a" stroke-width="1.6"/>
<path d="M261.3,733.5 L264.8,738.1 L261.3,742.7 L257.8,738.1 Z" fill="none" stroke="#1a1a1a" stroke-width="1.6"/>
<path d="M277.4,734.4 L280.9,739.0 L277.4,743.6 L273.9,739.0 Z" fill="none" stroke="#1a1a1a" stroke-width="1.6"/>
<path d="M286.7,753.0 L290.2,757.6 L286.7,762.2 L283.2,757.6 Z" fill="none" stroke="#1a1a1a" stroke-width="1.6"/>
<path d="M301.0,758.9 L304.5,763.5 L301.0,768.1 L297.5,763.5 Z" fill="none" stroke="#1a1a1a" stroke-width="1.6"/>
<path d="M316.9,766.7 L320.4,771.3 L316.9,775.9 L313.4,771.3 Z" fill="none" stroke="#1a1a1a" stroke-width="1.6"/>
<path d="M331.9,774.2 L335.4,778.8 L331.9,783.4 L328.4,778.8 Z" fill="none" stroke="#1a1a1a" stroke-width="1.6"/>
<path d="M346.9,764.9 L350.4,769.5 L346.9,774.1 L343.4,769.5 Z" fill="none" stroke="#1a1a1a" stroke-width="1.6"/>
<path d="M361.9,757.4 L365.4,762.0 L361.9,766.6 L358.4,762.0 Z" fill="none" stroke="#1a1a1a" stroke-width="1.6"/>
<path d="M372.2,722.6 L375.7,727.2 L372.2,731.8 L368.7,727.2 Z" fill="none" stroke="#1a1a1a" stroke-width="1.6"/>
<path d="M382.6,697.3 L386.1,701.9 L382.6,706.5 L379.1,701.9 Z" fill="none" stroke="#1a1a1a" stroke-width="1.6"/>
<path d="M390.0,682.1 L393.5,686.7 L390.0,691.3 L386.5,686.7 Z" fill="none" stroke="#1a1a1a" stroke-width="1.6"/>
<path d="M404.1,654.1 L407.6,658.7 L404.1,663.3 L400.6,658.7 Z" fill="none" stroke="#1a1a1a" stroke-width="1.6"/>
<path d="M414.4,643.8 L417.9,648.4 L414.4,653.0 L410.9,648.4 Z" fill="none" stroke="#1a1a1a" stroke-width="1.6"/>
<path d="M426.8,630.3 L430.3,634.9 L426.8,639.5 L423.3,634.9 Z" fill="none" stroke="#1a1a1a" stroke-width="1.6"/>
<path d="M437.1,611.4 L440.6,616.0 L437.1,620.6 L433.6,616.0 Z" fill="none" stroke="#1a1a1a" stroke-width="1.6"/>
<path d="M444.3,599.4 L447.8,604.0 L444.3,608.6 L440.8,604.0 Z" fill="none" stroke="#1a1a1a" stroke-width="1.6"/>
<path d="M451.5,586.0 L455.0,590.6 L451.5,595.2 L448.0,590.6 Z" fill="none" stroke="#1a1a1a" stroke-width="1.6"/>
<path d="M456.5,546.9 L460.0,551.5 L456.5,556.1 L453.0,551.5 Z" fill="none" stroke="#1a1a1a" stroke-width="1.6"/>
<path d="M94.8,756.3 L103.0,742.0 L110.0,742.0 L121.0,725.5 L126.0,725.5 L138.3,718.0 L150.3,704.5 L163.5,691.0 L172.8,692.8 L195.3,691.9 L208.5,702.2 L216.0,712.5 L222.6,725.7 L232.6,737.3 L246.1,741.5 L257.1,744.9 L263.9,750.0 L271.5,752.5 L279.0,757.6 L283.3,770.2 L294.3,781.2 L302.7,780.4 L317.8,780.7 L324.4,754.4 L348.8,750.7 L356.3,721.6 L366.6,711.3 L376.0,707.5 L382.6,688.8 L392.0,679.4 L402.0,654.6 L412.3,633.9 L419.5,601.9 L425.7,607.1 L428.8,626.7 L438.1,631.8 L446.4,609.1 L450.5,621.5 L455.7,615.3 L460.8,615.3" fill="none" stroke="#1a1a1a" stroke-width="1.8" stroke-dasharray="1.3 2.0" stroke-linejoin="round"/>
<path d="M94.8,760.3 L99.3,753.1 L90.3,753.1 Z" fill="none" stroke="#1a1a1a" stroke-width="1.6" stroke-linejoin="miter"/>
<path d="M103.0,746.0 L107.5,738.8 L98.5,738.8 Z" fill="none" stroke="#1a1a1a" stroke-width="1.6" stroke-linejoin="miter"/>
<path d="M110.0,746.0 L114.5,738.8 L105.5,738.8 Z" fill="none" stroke="#1a1a1a" stroke-width="1.6" stroke-linejoin="miter"/>
<path d="M121.0,729.5 L125.5,722.3 L116.5,722.3 Z" fill="none" stroke="#1a1a1a" stroke-width="1.6" stroke-linejoin="miter"/>
<path d="M126.0,729.5 L130.5,722.3 L121.5,722.3 Z" fill="none" stroke="#1a1a1a" stroke-width="1.6" stroke-linejoin="miter"/>
<path d="M138.3,722.0 L142.8,714.8 L133.8,714.8 Z" fill="none" stroke="#1a1a1a" stroke-width="1.6" stroke-linejoin="miter"/>
<path d="M150.3,708.5 L154.8,701.3 L145.8,701.3 Z" fill="none" stroke="#1a1a1a" stroke-width="1.6" stroke-linejoin="miter"/>
<path d="M163.5,695.0 L168.0,687.8 L159.0,687.8 Z" fill="none" stroke="#1a1a1a" stroke-width="1.6" stroke-linejoin="miter"/>
<path d="M172.8,696.8 L177.3,689.6 L168.3,689.6 Z" fill="none" stroke="#1a1a1a" stroke-width="1.6" stroke-linejoin="miter"/>
<path d="M195.3,695.9 L199.8,688.7 L190.8,688.7 Z" fill="none" stroke="#1a1a1a" stroke-width="1.6" stroke-linejoin="miter"/>
<path d="M208.5,706.2 L213.0,699.0 L204.0,699.0 Z" fill="none" stroke="#1a1a1a" stroke-width="1.6" stroke-linejoin="miter"/>
<path d="M216.0,716.5 L220.5,709.3 L211.5,709.3 Z" fill="none" stroke="#1a1a1a" stroke-width="1.6" stroke-linejoin="miter"/>
<path d="M222.6,729.7 L227.1,722.5 L218.1,722.5 Z" fill="none" stroke="#1a1a1a" stroke-width="1.6" stroke-linejoin="miter"/>
<path d="M232.6,741.3 L237.1,734.1 L228.1,734.1 Z" fill="none" stroke="#1a1a1a" stroke-width="1.6" stroke-linejoin="miter"/>
<path d="M246.1,745.5 L250.6,738.3 L241.6,738.3 Z" fill="none" stroke="#1a1a1a" stroke-width="1.6" stroke-linejoin="miter"/>
<path d="M257.1,748.9 L261.6,741.7 L252.6,741.7 Z" fill="none" stroke="#1a1a1a" stroke-width="1.6" stroke-linejoin="miter"/>
<path d="M263.9,754.0 L268.4,746.8 L259.4,746.8 Z" fill="none" stroke="#1a1a1a" stroke-width="1.6" stroke-linejoin="miter"/>
<path d="M271.5,756.5 L276.0,749.3 L267.0,749.3 Z" fill="none" stroke="#1a1a1a" stroke-width="1.6" stroke-linejoin="miter"/>
<path d="M279.0,761.6 L283.5,754.4 L274.5,754.4 Z" fill="none" stroke="#1a1a1a" stroke-width="1.6" stroke-linejoin="miter"/>
<path d="M283.3,774.2 L287.8,767.0 L278.8,767.0 Z" fill="none" stroke="#1a1a1a" stroke-width="1.6" stroke-linejoin="miter"/>
<path d="M294.3,785.2 L298.8,778.0 L289.8,778.0 Z" fill="none" stroke="#1a1a1a" stroke-width="1.6" stroke-linejoin="miter"/>
<path d="M302.7,784.4 L307.2,777.2 L298.2,777.2 Z" fill="none" stroke="#1a1a1a" stroke-width="1.6" stroke-linejoin="miter"/>
<path d="M317.8,784.7 L322.3,777.5 L313.3,777.5 Z" fill="none" stroke="#1a1a1a" stroke-width="1.6" stroke-linejoin="miter"/>
<path d="M324.4,758.4 L328.9,751.2 L319.9,751.2 Z" fill="none" stroke="#1a1a1a" stroke-width="1.6" stroke-linejoin="miter"/>
<path d="M348.8,754.7 L353.3,747.5 L344.3,747.5 Z" fill="none" stroke="#1a1a1a" stroke-width="1.6" stroke-linejoin="miter"/>
<path d="M356.3,725.6 L360.8,718.4 L351.8,718.4 Z" fill="none" stroke="#1a1a1a" stroke-width="1.6" stroke-linejoin="miter"/>
<path d="M366.6,715.3 L371.1,708.1 L362.1,708.1 Z" fill="none" stroke="#1a1a1a" stroke-width="1.6" stroke-linejoin="miter"/>
<path d="M376.0,711.5 L380.5,704.3 L371.5,704.3 Z" fill="none" stroke="#1a1a1a" stroke-width="1.6" stroke-linejoin="miter"/>
<path d="M382.6,692.8 L387.1,685.6 L378.1,685.6 Z" fill="none" stroke="#1a1a1a" stroke-width="1.6" stroke-linejoin="miter"/>
<path d="M392.0,683.4 L396.5,676.2 L387.5,676.2 Z" fill="none" stroke="#1a1a1a" stroke-width="1.6" stroke-linejoin="miter"/>
<path d="M402.0,658.6 L406.5,651.4 L397.5,651.4 Z" fill="none" stroke="#1a1a1a" stroke-width="1.6" stroke-linejoin="miter"/>
<path d="M412.3,637.9 L416.8,630.7 L407.8,630.7 Z" fill="none" stroke="#1a1a1a" stroke-width="1.6" stroke-linejoin="miter"/>
<path d="M419.5,605.9 L424.0,598.7 L415.0,598.7 Z" fill="none" stroke="#1a1a1a" stroke-width="1.6" stroke-linejoin="miter"/>
<path d="M425.7,611.1 L430.2,603.9 L421.2,603.9 Z" fill="none" stroke="#1a1a1a" stroke-width="1.6" stroke-linejoin="miter"/>
<path d="M428.8,630.7 L433.3,623.5 L424.3,623.5 Z" fill="none" stroke="#1a1a1a" stroke-width="1.6" stroke-linejoin="miter"/>
<path d="M438.1,635.8 L442.6,628.6 L433.6,628.6 Z" fill="none" stroke="#1a1a1a" stroke-width="1.6" stroke-linejoin="miter"/>
<path d="M446.4,613.1 L450.9,605.9 L441.9,605.9 Z" fill="none" stroke="#1a1a1a" stroke-width="1.6" stroke-linejoin="miter"/>
<path d="M450.5,625.5 L455.0,618.3 L446.0,618.3 Z" fill="none" stroke="#1a1a1a" stroke-width="1.6" stroke-linejoin="miter"/>
<path d="M455.7,619.3 L460.2,612.1 L451.2,612.1 Z" fill="none" stroke="#1a1a1a" stroke-width="1.6" stroke-linejoin="miter"/>
<path d="M460.8,619.3 L465.3,612.1 L456.3,612.1 Z" fill="none" stroke="#1a1a1a" stroke-width="1.6" stroke-linejoin="miter"/>
<path d="M100.0,764.6 L111.3,753.3 L127.0,743.5 L140.5,734.5 L155.0,722.0 L166.3,717.2 L174.7,719.0 L185.0,720.0 L190.7,720.0 L203.8,729.4 L212.7,737.3 L229.0,751.0 L246.7,760.4 L261.3,763.5 L273.1,771.1 L288.3,786.0 L304.7,773.2 L323.5,752.6 L328.1,760.0 L343.2,752.6 L361.0,695.3 L368.5,704.7 L379.3,688.6 L392.7,653.1 L406.1,623.6 L419.4,568.2 L434.0,534.2 L439.8,523.5 L444.7,515.7 L449.5,502.1 L454.4,461.4" fill="none" stroke="#1a1a1a" stroke-width="1.7" stroke-dasharray="3.8 1.9 1.2 1.9" stroke-linejoin="round"/>
<path d="M100.0,760.6 L104.5,767.8 L95.5,767.8 Z" fill="none" stroke="#1a1a1a" stroke-width="1.6" stroke-linejoin="miter"/>
<path d="M111.3,749.3 L115.8,756.5 L106.8,756.5 Z" fill="none" stroke="#1a1a1a" stroke-width="1.6" stroke-linejoin="miter"/>
<path d="M127.0,739.5 L131.5,746.7 L122.5,746.7 Z" fill="none" stroke="#1a1a1a" stroke-width="1.6" stroke-linejoin="miter"/>
<path d="M140.5,730.5 L145.0,737.7 L136.0,737.7 Z" fill="none" stroke="#1a1a1a" stroke-width="1.6" stroke-linejoin="miter"/>
<path d="M155.0,718.0 L159.5,725.2 L150.5,725.2 Z" fill="none" stroke="#1a1a1a" stroke-width="1.6" stroke-linejoin="miter"/>
<path d="M166.3,713.2 L170.8,720.4 L161.8,720.4 Z" fill="none" stroke="#1a1a1a" stroke-width="1.6" stroke-linejoin="miter"/>
<path d="M174.7,715.0 L179.2,722.2 L170.2,722.2 Z" fill="none" stroke="#1a1a1a" stroke-width="1.6" stroke-linejoin="miter"/>
<path d="M185.0,716.0 L189.5,723.2 L180.5,723.2 Z" fill="none" stroke="#1a1a1a" stroke-width="1.6" stroke-linejoin="miter"/>
<path d="M190.7,716.0 L195.2,723.2 L186.2,723.2 Z" fill="none" stroke="#1a1a1a" stroke-width="1.6" stroke-linejoin="miter"/>
<path d="M203.8,725.4 L208.3,732.6 L199.3,732.6 Z" fill="none" stroke="#1a1a1a" stroke-width="1.6" stroke-linejoin="miter"/>
<path d="M212.7,733.3 L217.2,740.5 L208.2,740.5 Z" fill="none" stroke="#1a1a1a" stroke-width="1.6" stroke-linejoin="miter"/>
<path d="M229.0,747.0 L233.5,754.2 L224.5,754.2 Z" fill="none" stroke="#1a1a1a" stroke-width="1.6" stroke-linejoin="miter"/>
<path d="M246.7,756.4 L251.2,763.6 L242.2,763.6 Z" fill="none" stroke="#1a1a1a" stroke-width="1.6" stroke-linejoin="miter"/>
<path d="M261.3,759.5 L265.8,766.7 L256.8,766.7 Z" fill="none" stroke="#1a1a1a" stroke-width="1.6" stroke-linejoin="miter"/>
<path d="M273.1,767.1 L277.6,774.3 L268.6,774.3 Z" fill="none" stroke="#1a1a1a" stroke-width="1.6" stroke-linejoin="miter"/>
<path d="M288.3,782.0 L292.8,789.2 L283.8,789.2 Z" fill="none" stroke="#1a1a1a" stroke-width="1.6" stroke-linejoin="miter"/>
<path d="M304.7,769.2 L309.2,776.4 L300.2,776.4 Z" fill="none" stroke="#1a1a1a" stroke-width="1.6" stroke-linejoin="miter"/>
<path d="M323.5,748.6 L328.0,755.8 L319.0,755.8 Z" fill="none" stroke="#1a1a1a" stroke-width="1.6" stroke-linejoin="miter"/>
<path d="M328.1,756.0 L332.6,763.2 L323.6,763.2 Z" fill="none" stroke="#1a1a1a" stroke-width="1.6" stroke-linejoin="miter"/>
<path d="M343.2,748.6 L347.7,755.8 L338.7,755.8 Z" fill="none" stroke="#1a1a1a" stroke-width="1.6" stroke-linejoin="miter"/>
<path d="M361.0,691.3 L365.5,698.5 L356.5,698.5 Z" fill="none" stroke="#1a1a1a" stroke-width="1.6" stroke-linejoin="miter"/>
<path d="M368.5,700.7 L373.0,707.9 L364.0,707.9 Z" fill="none" stroke="#1a1a1a" stroke-width="1.6" stroke-linejoin="miter"/>
<path d="M379.3,684.6 L383.8,691.8 L374.8,691.8 Z" fill="none" stroke="#1a1a1a" stroke-width="1.6" stroke-linejoin="miter"/>
<path d="M392.7,649.1 L397.2,656.3 L388.2,656.3 Z" fill="none" stroke="#1a1a1a" stroke-width="1.6" stroke-linejoin="miter"/>
<path d="M406.1,619.6 L410.6,626.8 L401.6,626.8 Z" fill="none" stroke="#1a1a1a" stroke-width="1.6" stroke-linejoin="miter"/>
<path d="M419.4,564.2 L423.9,571.4 L414.9,571.4 Z" fill="none" stroke="#1a1a1a" stroke-width="1.6" stroke-linejoin="miter"/>
<path d="M434.0,530.2 L438.5,537.4 L429.5,537.4 Z" fill="none" stroke="#1a1a1a" stroke-width="1.6" stroke-linejoin="miter"/>
<path d="M439.8,519.5 L444.3,526.7 L435.3,526.7 Z" fill="none" stroke="#1a1a1a" stroke-width="1.6" stroke-linejoin="miter"/>
<path d="M444.7,511.7 L449.2,518.9 L440.2,518.9 Z" fill="none" stroke="#1a1a1a" stroke-width="1.6" stroke-linejoin="miter"/>
<path d="M449.5,498.1 L454.0,505.3 L445.0,505.3 Z" fill="none" stroke="#1a1a1a" stroke-width="1.6" stroke-linejoin="miter"/>
<path d="M454.4,457.4 L458.9,464.6 L449.9,464.6 Z" fill="none" stroke="#1a1a1a" stroke-width="1.6" stroke-linejoin="miter"/>
<path d="M95.5,730.0 L108.3,718.8 L117.3,714.3 L127.0,706.8 L139.8,700.8 L148.0,690.0 L156.0,680.6 L167.2,682.5 L173.8,683.5 L185.0,696.6 L196.3,705.0 L204.7,709.7 L208.5,718.2 L213.2,731.3 L220.7,740.7 L222.6,759.4 L232.0,765.0 L245.0,768.0 L260.0,772.0 L280.0,778.0 L295.0,775.0 L303.8,771.3 L316.9,745.0 L326.3,732.9 L335.6,724.4 L346.9,717.0 L355.3,701.9 L364.7,683.2 L371.3,668.1 L379.3,643.2 L385.5,630.8 L395.8,614.3 L403.0,599.9 L412.3,572.0 L418.5,587.5 L425.7,567.9 L434.0,555.5 L436.9,502.1 L447.6,507.0 L456.3,516.7" fill="none" stroke="#6e6e6e" stroke-width="1.9" stroke-linejoin="round"/>
<path d="M95.5,724.2 L96.9,728.0 L101.0,728.2 L97.8,730.8 L98.9,734.7 L95.5,732.4 L92.1,734.7 L93.2,730.8 L90.0,728.2 L94.1,728.0 Z" fill="#6e6e6e" stroke="#6e6e6e" stroke-width="0.8"/>
<path d="M108.3,713.0 L109.7,716.8 L113.8,717.0 L110.6,719.6 L111.7,723.5 L108.3,721.2 L104.9,723.5 L106.0,719.6 L102.8,717.0 L106.9,716.8 Z" fill="#6e6e6e" stroke="#6e6e6e" stroke-width="0.8"/>
<path d="M117.3,708.5 L118.7,712.3 L122.8,712.5 L119.6,715.1 L120.7,719.0 L117.3,716.7 L113.9,719.0 L115.0,715.1 L111.8,712.5 L115.9,712.3 Z" fill="#6e6e6e" stroke="#6e6e6e" stroke-width="0.8"/>
<path d="M127.0,701.0 L128.4,704.8 L132.5,705.0 L129.3,707.6 L130.4,711.5 L127.0,709.2 L123.6,711.5 L124.7,707.6 L121.5,705.0 L125.6,704.8 Z" fill="#6e6e6e" stroke="#6e6e6e" stroke-width="0.8"/>
<path d="M139.8,695.0 L141.2,698.8 L145.3,699.0 L142.1,701.6 L143.2,705.5 L139.8,703.2 L136.4,705.5 L137.5,701.6 L134.3,699.0 L138.4,698.8 Z" fill="#6e6e6e" stroke="#6e6e6e" stroke-width="0.8"/>
<path d="M148.0,684.2 L149.4,688.0 L153.5,688.2 L150.3,690.8 L151.4,694.7 L148.0,692.4 L144.6,694.7 L145.7,690.8 L142.5,688.2 L146.6,688.0 Z" fill="#6e6e6e" stroke="#6e6e6e" stroke-width="0.8"/>
<path d="M156.0,674.8 L157.4,678.6 L161.5,678.8 L158.3,681.4 L159.4,685.3 L156.0,683.0 L152.6,685.3 L153.7,681.4 L150.5,678.8 L154.6,678.6 Z" fill="#6e6e6e" stroke="#6e6e6e" stroke-width="0.8"/>
<path d="M167.2,676.7 L168.6,680.5 L172.7,680.7 L169.5,683.3 L170.6,687.2 L167.2,684.9 L163.8,687.2 L164.9,683.3 L161.7,680.7 L165.8,680.5 Z" fill="#6e6e6e" stroke="#6e6e6e" stroke-width="0.8"/>
<path d="M173.8,677.7 L175.2,681.5 L179.3,681.7 L176.1,684.3 L177.2,688.2 L173.8,685.9 L170.4,688.2 L171.5,684.3 L168.3,681.7 L172.4,681.5 Z" fill="#6e6e6e" stroke="#6e6e6e" stroke-width="0.8"/>
<path d="M185.0,690.8 L186.4,694.6 L190.5,694.8 L187.3,697.4 L188.4,701.3 L185.0,699.0 L181.6,701.3 L182.7,697.4 L179.5,694.8 L183.6,694.6 Z" fill="#6e6e6e" stroke="#6e6e6e" stroke-width="0.8"/>
<path d="M196.3,699.2 L197.7,703.0 L201.8,703.2 L198.6,705.8 L199.7,709.7 L196.3,707.4 L192.9,709.7 L194.0,705.8 L190.8,703.2 L194.9,703.0 Z" fill="#6e6e6e" stroke="#6e6e6e" stroke-width="0.8"/>
<path d="M204.7,703.9 L206.1,707.7 L210.2,707.9 L207.0,710.5 L208.1,714.4 L204.7,712.1 L201.3,714.4 L202.4,710.5 L199.2,707.9 L203.3,707.7 Z" fill="#6e6e6e" stroke="#6e6e6e" stroke-width="0.8"/>
<path d="M208.5,712.4 L209.9,716.2 L214.0,716.4 L210.8,719.0 L211.9,722.9 L208.5,720.6 L205.1,722.9 L206.2,719.0 L203.0,716.4 L207.1,716.2 Z" fill="#6e6e6e" stroke="#6e6e6e" stroke-width="0.8"/>
<path d="M213.2,725.5 L214.6,729.3 L218.7,729.5 L215.5,732.1 L216.6,736.0 L213.2,733.7 L209.8,736.0 L210.9,732.1 L207.7,729.5 L211.8,729.3 Z" fill="#6e6e6e" stroke="#6e6e6e" stroke-width="0.8"/>
<path d="M220.7,734.9 L222.1,738.7 L226.2,738.9 L223.0,741.5 L224.1,745.4 L220.7,743.1 L217.3,745.4 L218.4,741.5 L215.2,738.9 L219.3,738.7 Z" fill="#6e6e6e" stroke="#6e6e6e" stroke-width="0.8"/>
<path d="M222.6,753.6 L224.0,757.4 L228.1,757.6 L224.9,760.2 L226.0,764.1 L222.6,761.8 L219.2,764.1 L220.3,760.2 L217.1,757.6 L221.2,757.4 Z" fill="#6e6e6e" stroke="#6e6e6e" stroke-width="0.8"/>
<path d="M232.0,759.2 L233.4,763.0 L237.5,763.2 L234.3,765.8 L235.4,769.7 L232.0,767.4 L228.6,769.7 L229.7,765.8 L226.5,763.2 L230.6,763.0 Z" fill="#6e6e6e" stroke="#6e6e6e" stroke-width="0.8"/>
<path d="M245.0,762.2 L246.4,766.0 L250.5,766.2 L247.3,768.8 L248.4,772.7 L245.0,770.4 L241.6,772.7 L242.7,768.8 L239.5,766.2 L243.6,766.0 Z" fill="#6e6e6e" stroke="#6e6e6e" stroke-width="0.8"/>
<path d="M260.0,766.2 L261.4,770.0 L265.5,770.2 L262.3,772.8 L263.4,776.7 L260.0,774.4 L256.6,776.7 L257.7,772.8 L254.5,770.2 L258.6,770.0 Z" fill="#6e6e6e" stroke="#6e6e6e" stroke-width="0.8"/>
<path d="M280.0,772.2 L281.4,776.0 L285.5,776.2 L282.3,778.8 L283.4,782.7 L280.0,780.4 L276.6,782.7 L277.7,778.8 L274.5,776.2 L278.6,776.0 Z" fill="#6e6e6e" stroke="#6e6e6e" stroke-width="0.8"/>
<path d="M295.0,769.2 L296.4,773.0 L300.5,773.2 L297.3,775.8 L298.4,779.7 L295.0,777.4 L291.6,779.7 L292.7,775.8 L289.5,773.2 L293.6,773.0 Z" fill="#6e6e6e" stroke="#6e6e6e" stroke-width="0.8"/>
<path d="M303.8,765.5 L305.2,769.3 L309.3,769.5 L306.1,772.1 L307.2,776.0 L303.8,773.7 L300.4,776.0 L301.5,772.1 L298.3,769.5 L302.4,769.3 Z" fill="#6e6e6e" stroke="#6e6e6e" stroke-width="0.8"/>
<path d="M316.9,739.2 L318.3,743.0 L322.4,743.2 L319.2,745.8 L320.3,749.7 L316.9,747.4 L313.5,749.7 L314.6,745.8 L311.4,743.2 L315.5,743.0 Z" fill="#6e6e6e" stroke="#6e6e6e" stroke-width="0.8"/>
<path d="M326.3,727.1 L327.7,730.9 L331.8,731.1 L328.6,733.7 L329.7,737.6 L326.3,735.3 L322.9,737.6 L324.0,733.7 L320.8,731.1 L324.9,730.9 Z" fill="#6e6e6e" stroke="#6e6e6e" stroke-width="0.8"/>
<path d="M335.6,718.6 L337.0,722.4 L341.1,722.6 L337.9,725.2 L339.0,729.1 L335.6,726.8 L332.2,729.1 L333.3,725.2 L330.1,722.6 L334.2,722.4 Z" fill="#6e6e6e" stroke="#6e6e6e" stroke-width="0.8"/>
<path d="M346.9,711.2 L348.3,715.0 L352.4,715.2 L349.2,717.8 L350.3,721.7 L346.9,719.4 L343.5,721.7 L344.6,717.8 L341.4,715.2 L345.5,715.0 Z" fill="#6e6e6e" stroke="#6e6e6e" stroke-width="0.8"/>
<path d="M355.3,696.1 L356.7,699.9 L360.8,700.1 L357.6,702.7 L358.7,706.6 L355.3,704.3 L351.9,706.6 L353.0,702.7 L349.8,700.1 L353.9,699.9 Z" fill="#6e6e6e" stroke="#6e6e6e" stroke-width="0.8"/>
<path d="M364.7,677.4 L366.1,681.2 L370.2,681.4 L367.0,684.0 L368.1,687.9 L364.7,685.6 L361.3,687.9 L362.4,684.0 L359.2,681.4 L363.3,681.2 Z" fill="#6e6e6e" stroke="#6e6e6e" stroke-width="0.8"/>
<path d="M371.3,662.3 L372.7,666.1 L376.8,666.3 L373.6,668.9 L374.7,672.8 L371.3,670.5 L367.9,672.8 L369.0,668.9 L365.8,666.3 L369.9,666.1 Z" fill="#6e6e6e" stroke="#6e6e6e" stroke-width="0.8"/>
<path d="M379.3,637.4 L380.7,641.2 L384.8,641.4 L381.6,644.0 L382.7,647.9 L379.3,645.6 L375.9,647.9 L377.0,644.0 L373.8,641.4 L377.9,641.2 Z" fill="#6e6e6e" stroke="#6e6e6e" stroke-width="0.8"/>
<path d="M385.5,625.0 L386.9,628.8 L391.0,629.0 L387.8,631.6 L388.9,635.5 L385.5,633.2 L382.1,635.5 L383.2,631.6 L380.0,629.0 L384.1,628.8 Z" fill="#6e6e6e" stroke="#6e6e6e" stroke-width="0.8"/>
<path d="M395.8,608.5 L397.2,612.3 L401.3,612.5 L398.1,615.1 L399.2,619.0 L395.8,616.7 L392.4,619.0 L393.5,615.1 L390.3,612.5 L394.4,612.3 Z" fill="#6e6e6e" stroke="#6e6e6e" stroke-width="0.8"/>
<path d="M403.0,594.1 L404.4,597.9 L408.5,598.1 L405.3,600.7 L406.4,604.6 L403.0,602.3 L399.6,604.6 L400.7,600.7 L397.5,598.1 L401.6,597.9 Z" fill="#6e6e6e" stroke="#6e6e6e" stroke-width="0.8"/>
<path d="M412.3,566.2 L413.7,570.0 L417.8,570.2 L414.6,572.8 L415.7,576.7 L412.3,574.4 L408.9,576.7 L410.0,572.8 L406.8,570.2 L410.9,570.0 Z" fill="#6e6e6e" stroke="#6e6e6e" stroke-width="0.8"/>
<path d="M418.5,581.7 L419.9,585.5 L424.0,585.7 L420.8,588.3 L421.9,592.2 L418.5,589.9 L415.1,592.2 L416.2,588.3 L413.0,585.7 L417.1,585.5 Z" fill="#6e6e6e" stroke="#6e6e6e" stroke-width="0.8"/>
<path d="M425.7,562.1 L427.1,565.9 L431.2,566.1 L428.0,568.7 L429.1,572.6 L425.7,570.3 L422.3,572.6 L423.4,568.7 L420.2,566.1 L424.3,565.9 Z" fill="#6e6e6e" stroke="#6e6e6e" stroke-width="0.8"/>
<path d="M434.0,549.7 L435.4,553.5 L439.5,553.7 L436.3,556.3 L437.4,560.2 L434.0,557.9 L430.6,560.2 L431.7,556.3 L428.5,553.7 L432.6,553.5 Z" fill="#6e6e6e" stroke="#6e6e6e" stroke-width="0.8"/>
<path d="M436.9,496.3 L438.3,500.1 L442.4,500.3 L439.2,502.9 L440.3,506.8 L436.9,504.5 L433.5,506.8 L434.6,502.9 L431.4,500.3 L435.5,500.1 Z" fill="#6e6e6e" stroke="#6e6e6e" stroke-width="0.8"/>
<path d="M447.6,501.2 L449.0,505.0 L453.1,505.2 L449.9,507.8 L451.0,511.7 L447.6,509.4 L444.2,511.7 L445.3,507.8 L442.1,505.2 L446.2,505.0 Z" fill="#6e6e6e" stroke="#6e6e6e" stroke-width="0.8"/>
<path d="M456.3,510.9 L457.7,514.7 L461.8,514.9 L458.6,517.5 L459.7,521.4 L456.3,519.1 L452.9,521.4 L454.0,517.5 L450.8,514.9 L454.9,514.7 Z" fill="#6e6e6e" stroke="#6e6e6e" stroke-width="0.8"/>
<path d="M98.5,749.5 L107.5,746.5 L119.5,740.5 L131.5,727.8 L140.5,721.8 L151.3,715.3 L166.3,714.4 L185.0,715.3 L194.4,719.0 L205.7,727.5 L211.3,735.0 L218.8,742.5 L222.6,759.4 L232.0,768.8 L243.6,774.5 L260.5,782.0 L275.0,780.0 L297.6,769.4 L308.4,758.2 L326.3,731.0 L331.9,727.2 L339.4,722.5 L353.5,687.8 L361.9,685.0 L365.7,682.2 L371.3,668.0 L380.7,645.6 L387.5,619.5 L398.9,592.6 L406.1,580.2 L411.7,572.0 L416.5,550.7 L427.2,547.8 L449.5,508.0 L455.3,489.5 L458.3,480.8" fill="none" stroke="#6e6e6e" stroke-width="1.8" stroke-dasharray="4.4 2.2" stroke-linejoin="round"/>
<path d="M98.5,744.5 L100.0,746.9 L102.8,747.0 L101.5,749.5 L102.8,752.0 L100.0,752.1 L98.5,754.5 L97.0,752.1 L94.2,752.0 L95.5,749.5 L94.2,747.0 L97.0,746.9 Z" fill="#6e6e6e" stroke="#6e6e6e" stroke-width="0.9"/>
<path d="M107.5,741.5 L109.0,743.9 L111.8,744.0 L110.5,746.5 L111.8,749.0 L109.0,749.1 L107.5,751.5 L106.0,749.1 L103.2,749.0 L104.5,746.5 L103.2,744.0 L106.0,743.9 Z" fill="#6e6e6e" stroke="#6e6e6e" stroke-width="0.9"/>
<path d="M119.5,735.5 L121.0,737.9 L123.8,738.0 L122.5,740.5 L123.8,743.0 L121.0,743.1 L119.5,745.5 L118.0,743.1 L115.2,743.0 L116.5,740.5 L115.2,738.0 L118.0,737.9 Z" fill="#6e6e6e" stroke="#6e6e6e" stroke-width="0.9"/>
<path d="M131.5,722.8 L133.0,725.2 L135.8,725.3 L134.5,727.8 L135.8,730.3 L133.0,730.4 L131.5,732.8 L130.0,730.4 L127.2,730.3 L128.5,727.8 L127.2,725.3 L130.0,725.2 Z" fill="#6e6e6e" stroke="#6e6e6e" stroke-width="0.9"/>
<path d="M140.5,716.8 L142.0,719.2 L144.8,719.3 L143.5,721.8 L144.8,724.3 L142.0,724.4 L140.5,726.8 L139.0,724.4 L136.2,724.3 L137.5,721.8 L136.2,719.3 L139.0,719.2 Z" fill="#6e6e6e" stroke="#6e6e6e" stroke-width="0.9"/>
<path d="M151.3,710.3 L152.8,712.7 L155.6,712.8 L154.3,715.3 L155.6,717.8 L152.8,717.9 L151.3,720.3 L149.8,717.9 L147.0,717.8 L148.3,715.3 L147.0,712.8 L149.8,712.7 Z" fill="#6e6e6e" stroke="#6e6e6e" stroke-width="0.9"/>
<path d="M166.3,709.4 L167.8,711.8 L170.6,711.9 L169.3,714.4 L170.6,716.9 L167.8,717.0 L166.3,719.4 L164.8,717.0 L162.0,716.9 L163.3,714.4 L162.0,711.9 L164.8,711.8 Z" fill="#6e6e6e" stroke="#6e6e6e" stroke-width="0.9"/>
<path d="M185.0,710.3 L186.5,712.7 L189.3,712.8 L188.0,715.3 L189.3,717.8 L186.5,717.9 L185.0,720.3 L183.5,717.9 L180.7,717.8 L182.0,715.3 L180.7,712.8 L183.5,712.7 Z" fill="#6e6e6e" stroke="#6e6e6e" stroke-width="0.9"/>
<path d="M194.4,714.0 L195.9,716.4 L198.7,716.5 L197.4,719.0 L198.7,721.5 L195.9,721.6 L194.4,724.0 L192.9,721.6 L190.1,721.5 L191.4,719.0 L190.1,716.5 L192.9,716.4 Z" fill="#6e6e6e" stroke="#6e6e6e" stroke-width="0.9"/>
<path d="M205.7,722.5 L207.2,724.9 L210.0,725.0 L208.7,727.5 L210.0,730.0 L207.2,730.1 L205.7,732.5 L204.2,730.1 L201.4,730.0 L202.7,727.5 L201.4,725.0 L204.2,724.9 Z" fill="#6e6e6e" stroke="#6e6e6e" stroke-width="0.9"/>
<path d="M211.3,730.0 L212.8,732.4 L215.6,732.5 L214.3,735.0 L215.6,737.5 L212.8,737.6 L211.3,740.0 L209.8,737.6 L207.0,737.5 L208.3,735.0 L207.0,732.5 L209.8,732.4 Z" fill="#6e6e6e" stroke="#6e6e6e" stroke-width="0.9"/>
<path d="M218.8,737.5 L220.3,739.9 L223.1,740.0 L221.8,742.5 L223.1,745.0 L220.3,745.1 L218.8,747.5 L217.3,745.1 L214.5,745.0 L215.8,742.5 L214.5,740.0 L217.3,739.9 Z" fill="#6e6e6e" stroke="#6e6e6e" stroke-width="0.9"/>
<path d="M222.6,754.4 L224.1,756.8 L226.9,756.9 L225.6,759.4 L226.9,761.9 L224.1,762.0 L222.6,764.4 L221.1,762.0 L218.3,761.9 L219.6,759.4 L218.3,756.9 L221.1,756.8 Z" fill="#6e6e6e" stroke="#6e6e6e" stroke-width="0.9"/>
<path d="M232.0,763.8 L233.5,766.2 L236.3,766.3 L235.0,768.8 L236.3,771.3 L233.5,771.4 L232.0,773.8 L230.5,771.4 L227.7,771.3 L229.0,768.8 L227.7,766.3 L230.5,766.2 Z" fill="#6e6e6e" stroke="#6e6e6e" stroke-width="0.9"/>
<path d="M243.6,769.5 L245.1,771.9 L247.9,772.0 L246.6,774.5 L247.9,777.0 L245.1,777.1 L243.6,779.5 L242.1,777.1 L239.3,777.0 L240.6,774.5 L239.3,772.0 L242.1,771.9 Z" fill="#6e6e6e" stroke="#6e6e6e" stroke-width="0.9"/>
<path d="M260.5,777.0 L262.0,779.4 L264.8,779.5 L263.5,782.0 L264.8,784.5 L262.0,784.6 L260.5,787.0 L259.0,784.6 L256.2,784.5 L257.5,782.0 L256.2,779.5 L259.0,779.4 Z" fill="#6e6e6e" stroke="#6e6e6e" stroke-width="0.9"/>
<path d="M275.0,775.0 L276.5,777.4 L279.3,777.5 L278.0,780.0 L279.3,782.5 L276.5,782.6 L275.0,785.0 L273.5,782.6 L270.7,782.5 L272.0,780.0 L270.7,777.5 L273.5,777.4 Z" fill="#6e6e6e" stroke="#6e6e6e" stroke-width="0.9"/>
<path d="M297.6,764.4 L299.1,766.8 L301.9,766.9 L300.6,769.4 L301.9,771.9 L299.1,772.0 L297.6,774.4 L296.1,772.0 L293.3,771.9 L294.6,769.4 L293.3,766.9 L296.1,766.8 Z" fill="#6e6e6e" stroke="#6e6e6e" stroke-width="0.9"/>
<path d="M308.4,753.2 L309.9,755.6 L312.7,755.7 L311.4,758.2 L312.7,760.7 L309.9,760.8 L308.4,763.2 L306.9,760.8 L304.1,760.7 L305.4,758.2 L304.1,755.7 L306.9,755.6 Z" fill="#6e6e6e" stroke="#6e6e6e" stroke-width="0.9"/>
<path d="M326.3,726.0 L327.8,728.4 L330.6,728.5 L329.3,731.0 L330.6,733.5 L327.8,733.6 L326.3,736.0 L324.8,733.6 L322.0,733.5 L323.3,731.0 L322.0,728.5 L324.8,728.4 Z" fill="#6e6e6e" stroke="#6e6e6e" stroke-width="0.9"/>
<path d="M331.9,722.2 L333.4,724.6 L336.2,724.7 L334.9,727.2 L336.2,729.7 L333.4,729.8 L331.9,732.2 L330.4,729.8 L327.6,729.7 L328.9,727.2 L327.6,724.7 L330.4,724.6 Z" fill="#6e6e6e" stroke="#6e6e6e" stroke-width="0.9"/>
<path d="M339.4,717.5 L340.9,719.9 L343.7,720.0 L342.4,722.5 L343.7,725.0 L340.9,725.1 L339.4,727.5 L337.9,725.1 L335.1,725.0 L336.4,722.5 L335.1,720.0 L337.9,719.9 Z" fill="#6e6e6e" stroke="#6e6e6e" stroke-width="0.9"/>
<path d="M353.5,682.8 L355.0,685.2 L357.8,685.3 L356.5,687.8 L357.8,690.3 L355.0,690.4 L353.5,692.8 L352.0,690.4 L349.2,690.3 L350.5,687.8 L349.2,685.3 L352.0,685.2 Z" fill="#6e6e6e" stroke="#6e6e6e" stroke-width="0.9"/>
<path d="M361.9,680.0 L363.4,682.4 L366.2,682.5 L364.9,685.0 L366.2,687.5 L363.4,687.6 L361.9,690.0 L360.4,687.6 L357.6,687.5 L358.9,685.0 L357.6,682.5 L360.4,682.4 Z" fill="#6e6e6e" stroke="#6e6e6e" stroke-width="0.9"/>
<path d="M365.7,677.2 L367.2,679.6 L370.0,679.7 L368.7,682.2 L370.0,684.7 L367.2,684.8 L365.7,687.2 L364.2,684.8 L361.4,684.7 L362.7,682.2 L361.4,679.7 L364.2,679.6 Z" fill="#6e6e6e" stroke="#6e6e6e" stroke-width="0.9"/>
<path d="M371.3,663.0 L372.8,665.4 L375.6,665.5 L374.3,668.0 L375.6,670.5 L372.8,670.6 L371.3,673.0 L369.8,670.6 L367.0,670.5 L368.3,668.0 L367.0,665.5 L369.8,665.4 Z" fill="#6e6e6e" stroke="#6e6e6e" stroke-width="0.9"/>
<path d="M380.7,640.6 L382.2,643.0 L385.0,643.1 L383.7,645.6 L385.0,648.1 L382.2,648.2 L380.7,650.6 L379.2,648.2 L376.4,648.1 L377.7,645.6 L376.4,643.1 L379.2,643.0 Z" fill="#6e6e6e" stroke="#6e6e6e" stroke-width="0.9"/>
<path d="M387.5,614.5 L389.0,616.9 L391.8,617.0 L390.5,619.5 L391.8,622.0 L389.0,622.1 L387.5,624.5 L386.0,622.1 L383.2,622.0 L384.5,619.5 L383.2,617.0 L386.0,616.9 Z" fill="#6e6e6e" stroke="#6e6e6e" stroke-width="0.9"/>
<path d="M398.9,587.6 L400.4,590.0 L403.2,590.1 L401.9,592.6 L403.2,595.1 L400.4,595.2 L398.9,597.6 L397.4,595.2 L394.6,595.1 L395.9,592.6 L394.6,590.1 L397.4,590.0 Z" fill="#6e6e6e" stroke="#6e6e6e" stroke-width="0.9"/>
<path d="M406.1,575.2 L407.6,577.6 L410.4,577.7 L409.1,580.2 L410.4,582.7 L407.6,582.8 L406.1,585.2 L404.6,582.8 L401.8,582.7 L403.1,580.2 L401.8,577.7 L404.6,577.6 Z" fill="#6e6e6e" stroke="#6e6e6e" stroke-width="0.9"/>
<path d="M411.7,567.0 L413.2,569.4 L416.0,569.5 L414.7,572.0 L416.0,574.5 L413.2,574.6 L411.7,577.0 L410.2,574.6 L407.4,574.5 L408.7,572.0 L407.4,569.5 L410.2,569.4 Z" fill="#6e6e6e" stroke="#6e6e6e" stroke-width="0.9"/>
<path d="M416.5,545.7 L418.0,548.1 L420.8,548.2 L419.5,550.7 L420.8,553.2 L418.0,553.3 L416.5,555.7 L415.0,553.3 L412.2,553.2 L413.5,550.7 L412.2,548.2 L415.0,548.1 Z" fill="#6e6e6e" stroke="#6e6e6e" stroke-width="0.9"/>
<path d="M427.2,542.8 L428.7,545.2 L431.5,545.3 L430.2,547.8 L431.5,550.3 L428.7,550.4 L427.2,552.8 L425.7,550.4 L422.9,550.3 L424.2,547.8 L422.9,545.3 L425.7,545.2 Z" fill="#6e6e6e" stroke="#6e6e6e" stroke-width="0.9"/>
<path d="M449.5,503.0 L451.0,505.4 L453.8,505.5 L452.5,508.0 L453.8,510.5 L451.0,510.6 L449.5,513.0 L448.0,510.6 L445.2,510.5 L446.5,508.0 L445.2,505.5 L448.0,505.4 Z" fill="#6e6e6e" stroke="#6e6e6e" stroke-width="0.9"/>
<path d="M455.3,484.5 L456.8,486.9 L459.6,487.0 L458.3,489.5 L459.6,492.0 L456.8,492.1 L455.3,494.5 L453.8,492.1 L451.0,492.0 L452.3,489.5 L451.0,487.0 L453.8,486.9 Z" fill="#6e6e6e" stroke="#6e6e6e" stroke-width="0.9"/>
<path d="M458.3,475.8 L459.8,478.2 L462.6,478.3 L461.3,480.8 L462.6,483.3 L459.8,483.4 L458.3,485.8 L456.8,483.4 L454.0,483.3 L455.3,480.8 L454.0,478.3 L456.8,478.2 Z" fill="#6e6e6e" stroke="#6e6e6e" stroke-width="0.9"/>
<rect x="413.5" y="3.5" width="110.0" height="194.0" fill="#fff" stroke="#bcbcbc" stroke-width="1"/>
<rect x="435.0" y="9.9" width="7.6" height="7.6" fill="none" stroke="#1a1a1a" stroke-width="1.6"/>
<text x="460.0" y="19.4" font-size="11.6" letter-spacing="0.58" fill="#222" stroke="#222" stroke-width="0.25">Exp. 10Hz</text>
<path d="M438.8,24.9 L442.3,29.4 L438.8,34.0 L435.3,29.4 Z" fill="none" stroke="#1a1a1a" stroke-width="1.6"/>
<text x="460.0" y="35.1" font-size="11.6" letter-spacing="0.58" fill="#222" stroke="#222" stroke-width="0.25">Exp. 20Hz</text>
<path d="M438.8,49.2 L443.3,42.0 L434.3,42.0 Z" fill="none" stroke="#1a1a1a" stroke-width="1.6" stroke-linejoin="miter"/>
<text x="460.0" y="50.9" font-size="11.6" letter-spacing="0.58" fill="#222" stroke="#222" stroke-width="0.25">Exp. 30Hz</text>
<path d="M438.8,56.9 L443.3,64.1 L434.3,64.1 Z" fill="none" stroke="#1a1a1a" stroke-width="1.6" stroke-linejoin="miter"/>
<text x="460.0" y="66.6" font-size="11.6" letter-spacing="0.58" fill="#222" stroke="#222" stroke-width="0.25">Exp. 40Hz</text>
<path d="M438.8,71.2 L440.0,75.1 L444.0,75.0 L440.7,77.3 L442.0,81.1 L438.8,78.7 L435.6,81.1 L436.9,77.3 L433.6,75.0 L437.6,75.1 Z" fill="none" stroke="#1a1a1a" stroke-width="1.6"/>
<text x="460.0" y="82.4" font-size="11.6" letter-spacing="0.58" fill="#222" stroke="#222" stroke-width="0.25">Exp. 50Hz</text>
<path d="M438.8,88.0 L440.2,90.1 L442.7,90.2 L441.5,92.5 L442.7,94.7 L440.2,94.8 L438.8,97.0 L437.4,94.8 L434.9,94.7 L436.1,92.5 L434.9,90.2 L437.4,90.1 Z" fill="none" stroke="#1a1a1a" stroke-width="1.5"/>
<text x="460.0" y="98.1" font-size="11.6" letter-spacing="0.58" fill="#222" stroke="#222" stroke-width="0.25">Exp. 60Hz</text>
<path d="M420.7,108.0 L456.5,108.0" fill="none" stroke="#1a1a1a" stroke-width="1.9" stroke-linejoin="round"/>
<text x="459.6" y="114.3" font-size="11.6" letter-spacing="0.72" fill="#222" stroke="#222" stroke-width="0.25">Sim. 10Hz</text>
<path d="M420.7,123.8 L456.5,123.8" fill="none" stroke="#1a1a1a" stroke-width="1.8" stroke-dasharray="4.4 2.2" stroke-linejoin="round"/>
<circle cx="438.8" cy="123.8" r="2.2" fill="#1a1a1a"/>
<text x="459.6" y="130.1" font-size="11.6" letter-spacing="0.72" fill="#222" stroke="#222" stroke-width="0.25">Sim. 20Hz</text>
<path d="M420.7,139.5 L456.5,139.5" fill="none" stroke="#1a1a1a" stroke-width="1.9" stroke-dasharray="1.3 2.1" stroke-linejoin="round"/>
<text x="459.6" y="145.8" font-size="11.6" letter-spacing="0.72" fill="#222" stroke="#222" stroke-width="0.25">Sim. 30Hz</text>
<path d="M420.7,155.2 L456.5,155.2" fill="none" stroke="#1a1a1a" stroke-width="1.8" stroke-dasharray="3.8 1.9 1.2 1.9" stroke-linejoin="round"/>
<circle cx="438.8" cy="155.2" r="2.2" fill="#1a1a1a"/>
<text x="459.6" y="161.6" font-size="11.6" letter-spacing="0.72" fill="#222" stroke="#222" stroke-width="0.25">Sim. 40Hz</text>
<path d="M420.7,171.0 L456.5,171.0" fill="none" stroke="#6e6e6e" stroke-width="1.9" stroke-linejoin="round"/>
<text x="459.6" y="177.3" font-size="11.6" letter-spacing="0.72" fill="#222" stroke="#222" stroke-width="0.25">Sim. 50Hz</text>
<path d="M420.7,186.8 L456.5,186.8" fill="none" stroke="#6e6e6e" stroke-width="1.8" stroke-dasharray="4.4 2.2" stroke-linejoin="round"/>
<circle cx="438.8" cy="186.8" r="2.2" fill="#6e6e6e"/>
<text x="459.6" y="193.1" font-size="11.6" letter-spacing="0.72" fill="#222" stroke="#222" stroke-width="0.25">Sim. 60Hz</text>
<rect x="33.5" y="430.5" width="170.0" height="99.0" fill="#fff" stroke="#bcbcbc" stroke-width="1"/>
<path d="M41.3,441.5 L76.3,441.5" fill="none" stroke="#1a1a1a" stroke-width="1.7" stroke-linejoin="round"/>
<rect x="55.6" y="438.0" width="7.0" height="7.0" fill="none" stroke="#1a1a1a" stroke-width="1.6"/>
<text x="80.6" y="446.0" font-size="11.6" letter-spacing="0.44" fill="#222" stroke="#222" stroke-width="0.25">10Hz (RMS=9.1%)</text>
<path d="M41.3,457.2 L76.3,457.2" fill="none" stroke="#1a1a1a" stroke-width="1.7" stroke-dasharray="4.4 2.2" stroke-linejoin="round"/>
<path d="M59.1,452.6 L62.6,457.2 L59.1,461.8 L55.6,457.2 Z" fill="none" stroke="#1a1a1a" stroke-width="1.6"/>
<text x="80.6" y="461.7" font-size="11.6" letter-spacing="0.44" fill="#222" stroke="#222" stroke-width="0.25">20Hz (RMS=8.41%)</text>
<path d="M41.3,472.9 L76.3,472.9" fill="none" stroke="#1a1a1a" stroke-width="1.8" stroke-dasharray="1.3 2.0" stroke-linejoin="round"/>
<path d="M59.1,476.9 L63.6,469.7 L54.6,469.7 Z" fill="none" stroke="#1a1a1a" stroke-width="1.6" stroke-linejoin="miter"/>
<text x="80.6" y="477.4" font-size="11.6" letter-spacing="0.44" fill="#222" stroke="#222" stroke-width="0.25">30Hz (RMS=7.92%)</text>
<path d="M41.3,488.5 L76.3,488.5" fill="none" stroke="#1a1a1a" stroke-width="1.7" stroke-dasharray="3.8 1.9 1.2 1.9" stroke-linejoin="round"/>
<path d="M59.1,484.5 L63.6,491.7 L54.6,491.7 Z" fill="none" stroke="#1a1a1a" stroke-width="1.6" stroke-linejoin="miter"/>
<text x="80.6" y="493.0" font-size="11.6" letter-spacing="0.44" fill="#222" stroke="#222" stroke-width="0.25">40Hz (RMS=10.91%)</text>
<path d="M41.3,504.2 L76.3,504.2" fill="none" stroke="#6e6e6e" stroke-width="1.9" stroke-linejoin="round"/>
<path d="M59.1,498.4 L60.5,502.2 L64.6,502.4 L61.4,505.0 L62.5,508.9 L59.1,506.7 L55.7,508.9 L56.8,505.0 L53.6,502.4 L57.7,502.2 Z" fill="#6e6e6e" stroke="#6e6e6e" stroke-width="0.8"/>
<text x="80.6" y="508.7" font-size="11.6" letter-spacing="0.44" fill="#222" stroke="#222" stroke-width="0.25">50Hz (RMS=10.75%)</text>
<path d="M41.3,519.9 L76.3,519.9" fill="none" stroke="#6e6e6e" stroke-width="1.8" stroke-dasharray="4.4 2.2" stroke-linejoin="round"/>
<path d="M59.1,514.9 L60.6,517.3 L63.4,517.4 L62.1,519.9 L63.4,522.4 L60.6,522.5 L59.1,524.9 L57.6,522.5 L54.8,522.4 L56.1,519.9 L54.8,517.4 L57.6,517.3 Z" fill="#6e6e6e" stroke="#6e6e6e" stroke-width="0.9"/>
<text x="80.6" y="524.4" font-size="11.6" letter-spacing="0.44" fill="#222" stroke="#222" stroke-width="0.25">60Hz (RMS=11.55%)</text>
<rect x="31.0" y="357.5" width="1.4" height="1.3" fill="#3a3a3a"/>
<rect x="31.0" y="2.9" width="1.4" height="1.3" fill="#3a3a3a"/>
<rect x="48.0" y="357.5" width="1.4" height="1.3" fill="#3a3a3a"/>
<rect x="48.0" y="2.9" width="1.4" height="1.3" fill="#3a3a3a"/>
<rect x="63.0" y="357.5" width="1.4" height="1.3" fill="#3a3a3a"/>
<rect x="63.0" y="2.9" width="1.4" height="1.3" fill="#3a3a3a"/>
<rect x="75.0" y="357.5" width="1.4" height="1.3" fill="#3a3a3a"/>
<rect x="75.0" y="2.9" width="1.4" height="1.3" fill="#3a3a3a"/>
<rect x="87.0" y="357.5" width="1.4" height="1.3" fill="#3a3a3a"/>
<rect x="87.0" y="2.9" width="1.4" height="1.3" fill="#3a3a3a"/>
<rect x="97.0" y="357.5" width="1.4" height="1.3" fill="#3a3a3a"/>
<rect x="97.0" y="2.9" width="1.4" height="1.3" fill="#3a3a3a"/>
<rect x="97.0" y="354.7" width="1.4" height="1.3" fill="#3a3a3a"/>
<rect x="97.0" y="5.7" width="1.4" height="1.3" fill="#3a3a3a"/>
<rect x="161.0" y="357.5" width="1.4" height="1.3" fill="#3a3a3a"/>
<rect x="161.0" y="2.9" width="1.4" height="1.3" fill="#3a3a3a"/>
<rect x="198.0" y="357.5" width="1.4" height="1.3" fill="#3a3a3a"/>
<rect x="198.0" y="2.9" width="1.4" height="1.3" fill="#3a3a3a"/>
<rect x="225.0" y="357.5" width="1.4" height="1.3" fill="#3a3a3a"/>
<rect x="225.0" y="2.9" width="1.4" height="1.3" fill="#3a3a3a"/>
<rect x="246.0" y="357.5" width="1.4" height="1.3" fill="#3a3a3a"/>
<rect x="246.0" y="2.9" width="1.4" height="1.3" fill="#3a3a3a"/>
<rect x="263.0" y="357.5" width="1.4" height="1.3" fill="#3a3a3a"/>
<rect x="263.0" y="2.9" width="1.4" height="1.3" fill="#3a3a3a"/>
<rect x="277.0" y="357.5" width="1.4" height="1.3" fill="#3a3a3a"/>
<rect x="277.0" y="2.9" width="1.4" height="1.3" fill="#3a3a3a"/>
<rect x="289.0" y="357.5" width="1.4" height="1.3" fill="#3a3a3a"/>
<rect x="289.0" y="2.9" width="1.4" height="1.3" fill="#3a3a3a"/>
<rect x="300.0" y="357.5" width="1.4" height="1.3" fill="#3a3a3a"/>
<rect x="300.0" y="2.9" width="1.4" height="1.3" fill="#3a3a3a"/>
<rect x="310.0" y="357.5" width="1.4" height="1.3" fill="#3a3a3a"/>
<rect x="310.0" y="2.9" width="1.4" height="1.3" fill="#3a3a3a"/>
<rect x="310.0" y="354.7" width="1.4" height="1.3" fill="#3a3a3a"/>
<rect x="310.0" y="5.7" width="1.4" height="1.3" fill="#3a3a3a"/>
<rect x="374.0" y="357.5" width="1.4" height="1.3" fill="#3a3a3a"/>
<rect x="374.0" y="2.9" width="1.4" height="1.3" fill="#3a3a3a"/>
<rect x="412.0" y="357.5" width="1.4" height="1.3" fill="#3a3a3a"/>
<rect x="412.0" y="2.9" width="1.4" height="1.3" fill="#3a3a3a"/>
<rect x="438.0" y="357.5" width="1.4" height="1.3" fill="#3a3a3a"/>
<rect x="438.0" y="2.9" width="1.4" height="1.3" fill="#3a3a3a"/>
<rect x="459.0" y="357.5" width="1.4" height="1.3" fill="#3a3a3a"/>
<rect x="459.0" y="2.9" width="1.4" height="1.3" fill="#3a3a3a"/>
<rect x="476.0" y="357.5" width="1.4" height="1.3" fill="#3a3a3a"/>
<rect x="476.0" y="2.9" width="1.4" height="1.3" fill="#3a3a3a"/>
<rect x="490.0" y="357.5" width="1.4" height="1.3" fill="#3a3a3a"/>
<rect x="490.0" y="2.9" width="1.4" height="1.3" fill="#3a3a3a"/>
<rect x="503.0" y="357.5" width="1.4" height="1.3" fill="#3a3a3a"/>
<rect x="503.0" y="2.9" width="1.4" height="1.3" fill="#3a3a3a"/>
<rect x="514.0" y="357.5" width="1.4" height="1.3" fill="#3a3a3a"/>
<rect x="514.0" y="2.9" width="1.4" height="1.3" fill="#3a3a3a"/>
<rect x="524.0" y="357.5" width="1.4" height="1.3" fill="#3a3a3a"/>
<rect x="524.0" y="2.9" width="1.4" height="1.3" fill="#3a3a3a"/>
<rect x="524.0" y="354.7" width="1.4" height="1.3" fill="#3a3a3a"/>
<rect x="524.0" y="5.7" width="1.4" height="1.3" fill="#3a3a3a"/>
<rect x="37.0" y="359.9" width="1.5" height="1.3" fill="#3a3a3a"/>
<rect x="517.5" y="359.9" width="1.5" height="1.3" fill="#3a3a3a"/>
<rect x="37.0" y="288.9" width="1.5" height="1.3" fill="#3a3a3a"/>
<rect x="517.5" y="288.9" width="1.5" height="1.3" fill="#3a3a3a"/>
<rect x="37.0" y="216.9" width="1.5" height="1.3" fill="#3a3a3a"/>
<rect x="517.5" y="216.9" width="1.5" height="1.3" fill="#3a3a3a"/>
<rect x="37.0" y="145.9" width="1.5" height="1.3" fill="#3a3a3a"/>
<rect x="37.0" y="74.9" width="1.5" height="1.3" fill="#3a3a3a"/>
<rect x="37.0" y="2.9" width="1.5" height="1.3" fill="#3a3a3a"/>
<rect x="33.0" y="784.5" width="1.4" height="1.3" fill="#3a3a3a"/>
<rect x="33.0" y="429.9" width="1.4" height="1.3" fill="#3a3a3a"/>
<rect x="50.0" y="784.5" width="1.4" height="1.3" fill="#3a3a3a"/>
<rect x="50.0" y="429.9" width="1.4" height="1.3" fill="#3a3a3a"/>
<rect x="64.0" y="784.5" width="1.4" height="1.3" fill="#3a3a3a"/>
<rect x="64.0" y="429.9" width="1.4" height="1.3" fill="#3a3a3a"/>
<rect x="77.0" y="784.5" width="1.4" height="1.3" fill="#3a3a3a"/>
<rect x="77.0" y="429.9" width="1.4" height="1.3" fill="#3a3a3a"/>
<rect x="88.0" y="784.5" width="1.4" height="1.3" fill="#3a3a3a"/>
<rect x="88.0" y="429.9" width="1.4" height="1.3" fill="#3a3a3a"/>
<rect x="98.0" y="784.5" width="1.4" height="1.3" fill="#3a3a3a"/>
<rect x="98.0" y="429.9" width="1.4" height="1.3" fill="#3a3a3a"/>
<rect x="98.0" y="781.7" width="1.4" height="1.3" fill="#3a3a3a"/>
<rect x="98.0" y="432.7" width="1.4" height="1.3" fill="#3a3a3a"/>
<rect x="162.0" y="784.5" width="1.4" height="1.3" fill="#3a3a3a"/>
<rect x="162.0" y="429.9" width="1.4" height="1.3" fill="#3a3a3a"/>
<rect x="200.0" y="784.5" width="1.4" height="1.3" fill="#3a3a3a"/>
<rect x="200.0" y="429.9" width="1.4" height="1.3" fill="#3a3a3a"/>
<rect x="227.0" y="784.5" width="1.4" height="1.3" fill="#3a3a3a"/>
<rect x="227.0" y="429.9" width="1.4" height="1.3" fill="#3a3a3a"/>
<rect x="248.0" y="784.5" width="1.4" height="1.3" fill="#3a3a3a"/>
<rect x="248.0" y="429.9" width="1.4" height="1.3" fill="#3a3a3a"/>
<rect x="264.0" y="784.5" width="1.4" height="1.3" fill="#3a3a3a"/>
<rect x="264.0" y="429.9" width="1.4" height="1.3" fill="#3a3a3a"/>
<rect x="279.0" y="784.5" width="1.4" height="1.3" fill="#3a3a3a"/>
<rect x="279.0" y="429.9" width="1.4" height="1.3" fill="#3a3a3a"/>
<rect x="291.0" y="784.5" width="1.4" height="1.3" fill="#3a3a3a"/>
<rect x="291.0" y="429.9" width="1.4" height="1.3" fill="#3a3a3a"/>
<rect x="302.0" y="784.5" width="1.4" height="1.3" fill="#3a3a3a"/>
<rect x="302.0" y="429.9" width="1.4" height="1.3" fill="#3a3a3a"/>
<rect x="312.0" y="784.5" width="1.4" height="1.3" fill="#3a3a3a"/>
<rect x="312.0" y="429.9" width="1.4" height="1.3" fill="#3a3a3a"/>
<rect x="312.0" y="781.7" width="1.4" height="1.3" fill="#3a3a3a"/>
<rect x="312.0" y="432.7" width="1.4" height="1.3" fill="#3a3a3a"/>
<rect x="376.0" y="784.5" width="1.4" height="1.3" fill="#3a3a3a"/>
<rect x="376.0" y="429.9" width="1.4" height="1.3" fill="#3a3a3a"/>
<rect x="414.0" y="784.5" width="1.4" height="1.3" fill="#3a3a3a"/>
<rect x="414.0" y="429.9" width="1.4" height="1.3" fill="#3a3a3a"/>
<rect x="440.0" y="784.5" width="1.4" height="1.3" fill="#3a3a3a"/>
<rect x="440.0" y="429.9" width="1.4" height="1.3" fill="#3a3a3a"/>
<rect x="460.0" y="784.5" width="1.4" height="1.3" fill="#3a3a3a"/>
<rect x="460.0" y="429.9" width="1.4" height="1.3" fill="#3a3a3a"/>
<rect x="477.0" y="784.5" width="1.4" height="1.3" fill="#3a3a3a"/>
<rect x="477.0" y="429.9" width="1.4" height="1.3" fill="#3a3a3a"/>
<rect x="491.0" y="784.5" width="1.4" height="1.3" fill="#3a3a3a"/>
<rect x="491.0" y="429.9" width="1.4" height="1.3" fill="#3a3a3a"/>
<rect x="504.0" y="784.5" width="1.4" height="1.3" fill="#3a3a3a"/>
<rect x="504.0" y="429.9" width="1.4" height="1.3" fill="#3a3a3a"/>
<rect x="516.0" y="784.5" width="1.4" height="1.3" fill="#3a3a3a"/>
<rect x="516.0" y="429.9" width="1.4" height="1.3" fill="#3a3a3a"/>
<rect x="525.0" y="784.5" width="1.4" height="1.3" fill="#3a3a3a"/>
<rect x="525.0" y="429.9" width="1.4" height="1.3" fill="#3a3a3a"/>
<rect x="525.0" y="781.7" width="1.4" height="1.3" fill="#3a3a3a"/>
<rect x="525.0" y="432.7" width="1.4" height="1.3" fill="#3a3a3a"/>
<rect x="39.0" y="786.9" width="1.5" height="1.3" fill="#3a3a3a"/>
<rect x="518.5" y="786.9" width="1.5" height="1.3" fill="#3a3a3a"/>
<rect x="39.0" y="726.9" width="1.5" height="1.3" fill="#3a3a3a"/>
<rect x="518.5" y="726.9" width="1.5" height="1.3" fill="#3a3a3a"/>
<rect x="39.0" y="666.9" width="1.5" height="1.3" fill="#3a3a3a"/>
<rect x="518.5" y="666.9" width="1.5" height="1.3" fill="#3a3a3a"/>
<rect x="39.0" y="608.9" width="1.5" height="1.3" fill="#3a3a3a"/>
<rect x="518.5" y="608.9" width="1.5" height="1.3" fill="#3a3a3a"/>
<rect x="39.0" y="548.9" width="1.5" height="1.3" fill="#3a3a3a"/>
<rect x="518.5" y="548.9" width="1.5" height="1.3" fill="#3a3a3a"/>
<rect x="518.5" y="488.9" width="1.5" height="1.3" fill="#3a3a3a"/>
<rect x="518.5" y="429.9" width="1.5" height="1.3" fill="#3a3a3a"/>
</svg>
</body></html>
